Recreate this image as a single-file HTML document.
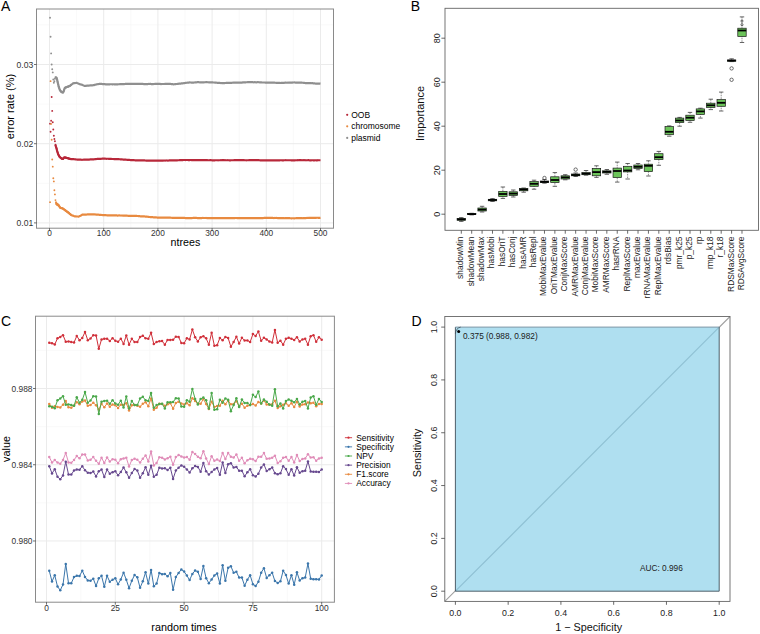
<!DOCTYPE html>
<html><head><meta charset="utf-8"><style>
html,body{margin:0;padding:0;background:#fff;}
body{width:760px;height:634px;overflow:hidden;}
svg{display:block;font-family:"Liberation Sans", sans-serif;}
</style></head><body>
<svg width="760" height="634" viewBox="0 0 760 634" font-family='"Liberation Sans", sans-serif'>
<rect width="760" height="634" fill="#fff"/>
<g id="A">
<line x1="76.6" y1="9.0" x2="76.6" y2="228.2" stroke="#f5f5f5" stroke-width="0.6"/>
<line x1="130.8" y1="9.0" x2="130.8" y2="228.2" stroke="#f5f5f5" stroke-width="0.6"/>
<line x1="185" y1="9.0" x2="185" y2="228.2" stroke="#f5f5f5" stroke-width="0.6"/>
<line x1="239.2" y1="9.0" x2="239.2" y2="228.2" stroke="#f5f5f5" stroke-width="0.6"/>
<line x1="293.4" y1="9.0" x2="293.4" y2="228.2" stroke="#f5f5f5" stroke-width="0.6"/>
<line x1="36.5" y1="183.3" x2="333.5" y2="183.3" stroke="#f5f5f5" stroke-width="0.6"/>
<line x1="36.5" y1="104.1" x2="333.5" y2="104.1" stroke="#f5f5f5" stroke-width="0.6"/>
<line x1="36.5" y1="24.9" x2="333.5" y2="24.9" stroke="#f5f5f5" stroke-width="0.6"/>
<line x1="49.5" y1="9.0" x2="49.5" y2="228.2" stroke="#ebebeb" stroke-width="1"/>
<line x1="103.7" y1="9.0" x2="103.7" y2="228.2" stroke="#ebebeb" stroke-width="1"/>
<line x1="157.9" y1="9.0" x2="157.9" y2="228.2" stroke="#ebebeb" stroke-width="1"/>
<line x1="212.1" y1="9.0" x2="212.1" y2="228.2" stroke="#ebebeb" stroke-width="1"/>
<line x1="266.3" y1="9.0" x2="266.3" y2="228.2" stroke="#ebebeb" stroke-width="1"/>
<line x1="320.5" y1="9.0" x2="320.5" y2="228.2" stroke="#ebebeb" stroke-width="1"/>
<line x1="36.5" y1="222.9" x2="333.5" y2="222.9" stroke="#ebebeb" stroke-width="1"/>
<line x1="36.5" y1="143.7" x2="333.5" y2="143.7" stroke="#ebebeb" stroke-width="1"/>
<line x1="36.5" y1="64.5" x2="333.5" y2="64.5" stroke="#ebebeb" stroke-width="1"/>
<polyline points="56,77.17 56.55,77.96 57.09,79.55 57.63,81.92 58.17,84.3 58.71,86.68 59.26,88.26 59.8,89.84 60.34,90.64 60.88,91.43 61.42,91.82 61.97,92.22 62.51,92.38 63.05,92.38 63.59,91.43 64.13,89.84 64.68,88.26 65.22,87.63 65.76,87.43 66.3,87.19 66.84,86.99 67.39,86.8 67.93,86.63 68.47,86.43 69.01,86.16 69.55,85.93 70.1,85.67 70.64,85.25 71.18,84.82 71.72,84.41 72.26,84.08 72.81,83.63 73.35,83.2 73.89,83.08 74.43,83.07 74.97,83.07 75.52,83.01 76.06,82.94 76.6,82.83 77.14,83.07 77.68,83.27 78.23,83.54 78.77,83.76 79.31,83.98 79.85,84.2 80.39,84.32 80.94,84.49 81.48,84.63 82.02,84.86 82.56,85.09 83.1,85.31 83.65,85.51 84.19,85.68 84.73,85.86 85.27,85.83 85.81,85.83 86.36,85.8 86.9,85.68 87.44,85.67 87.98,85.6 88.52,85.53 89.07,85.55 89.61,85.49 90.15,85.37 90.69,85.41 91.23,85.37 91.78,85.32 92.32,85.3 92.86,85.22 93.4,85.12 93.94,85.08 94.49,84.93 95.03,84.79 95.57,84.64 96.11,84.47 96.65,84.34 97.2,84.24 97.74,84.2 98.28,84.06 98.82,83.99 99.36,83.9 99.91,83.86 100.45,83.92 100.99,83.96 101.53,83.92 102.07,84.03 102.62,84.11 103.16,84.12 103.7,84.06 104.24,84.05 104.78,84.15 105.33,84.29 105.87,84.28 106.41,84.33 106.95,84.39 107.49,84.35 108.04,84.31 108.58,84.32 109.12,84.32 109.66,84.31 110.2,84.25 110.75,84.24 111.29,84.23 111.83,84.23 112.37,84.32 112.91,84.28 113.46,84.25 114,84.25 114.54,84.36 115.08,84.38 115.62,84.32 116.17,84.39 116.71,84.38 117.25,84.32 117.79,84.36 118.33,84.27 118.88,84.23 119.42,84.22 119.96,84.19 120.5,84.15 121.04,84.13 121.59,84.06 122.13,84.08 122.67,84.09 123.21,84.03 123.75,84.01 124.3,84.04 124.84,83.99 125.38,83.91 125.92,83.92 126.46,83.97 127.01,83.97 127.55,83.96 128.09,83.96 128.63,83.88 129.17,83.92 129.72,83.85 130.26,83.9 130.8,83.92 131.34,83.91 131.88,83.87 132.43,83.84 132.97,83.84 133.51,83.85 134.05,83.86 134.59,83.85 135.14,83.88 135.68,83.88 136.22,83.87 136.76,83.89 137.3,83.87 137.85,83.86 138.39,83.79 138.93,83.79 139.47,83.84 140.01,83.87 140.56,83.9 141.1,83.87 141.64,83.91 142.18,83.91 142.72,83.85 143.27,83.99 143.81,84.07 144.35,84.07 144.89,84.07 145.43,84.08 145.98,84.12 146.52,84.1 147.06,84.11 147.6,84.12 148.14,83.99 148.69,83.96 149.23,83.98 149.77,83.97 150.31,83.97 150.85,83.96 151.4,84.07 151.94,84.08 152.48,84.01 153.02,84.05 153.56,84.03 154.11,83.97 154.65,83.91 155.19,83.82 155.73,83.89 156.27,83.89 156.82,83.89 157.36,83.84 157.9,83.77 158.44,83.92 158.98,83.88 159.53,83.96 160.07,83.94 160.61,84.03 161.15,84.03 161.69,83.98 162.24,84 162.78,84.01 163.32,83.98 163.86,83.99 164.4,84.01 164.95,83.95 165.49,83.92 166.03,83.95 166.57,83.84 167.11,83.92 167.66,83.89 168.2,83.93 168.74,83.94 169.28,83.93 169.82,83.94 170.37,83.93 170.91,84.02 171.45,84.11 171.99,84.1 172.53,84.16 173.08,84.23 173.62,84.31 174.16,84.26 174.7,84.18 175.24,84.06 175.79,84.05 176.33,84 176.87,84.01 177.41,83.92 177.95,83.79 178.5,83.79 179.04,83.66 179.58,83.57 180.12,83.53 180.66,83.57 181.21,83.46 181.75,83.41 182.29,83.39 182.83,83.33 183.37,83.26 183.92,83.14 184.46,83.14 185,83.04 185.54,82.92 186.08,82.81 186.63,82.77 187.17,82.76 187.71,82.67 188.25,82.62 188.79,82.57 189.34,82.46 189.88,82.43 190.42,82.5 190.96,82.51 191.5,82.59 192.05,82.54 192.59,82.52 193.13,82.54 193.67,82.53 194.21,82.48 194.76,82.47 195.3,82.39 195.84,82.39 196.38,82.33 196.92,82.26 197.47,82.18 198.01,82.21 198.55,82.16 199.09,82.25 199.63,82.29 200.18,82.38 200.72,82.32 201.26,82.37 201.8,82.36 202.34,82.36 202.89,82.35 203.43,82.36 203.97,82.34 204.51,82.24 205.05,82.23 205.6,82.2 206.14,82.14 206.68,82.14 207.22,82.22 207.76,82.26 208.31,82.23 208.85,82.32 209.39,82.37 209.93,82.33 210.47,82.31 211.02,82.33 211.56,82.3 212.1,82.31 212.64,82.39 213.18,82.48 213.73,82.52 214.27,82.49 214.81,82.53 215.35,82.59 215.89,82.63 216.44,82.72 216.98,82.73 217.52,82.8 218.06,82.78 218.6,82.9 219.15,82.89 219.69,82.93 220.23,83.03 220.77,82.99 221.31,83.01 221.86,83.12 222.4,83.16 222.94,83.15 223.48,83.16 224.02,83.1 224.57,83.06 225.11,83.02 225.65,82.99 226.19,82.92 226.73,82.88 227.28,82.86 227.82,82.95 228.36,82.9 228.9,82.83 229.44,82.84 229.99,82.86 230.53,82.77 231.07,82.85 231.61,82.82 232.15,82.7 232.7,82.75 233.24,82.71 233.78,82.62 234.32,82.63 234.86,82.61 235.41,82.57 235.95,82.62 236.49,82.62 237.03,82.61 237.57,82.58 238.12,82.58 238.66,82.6 239.2,82.65 239.74,82.65 240.28,82.59 240.83,82.56 241.37,82.59 241.91,82.61 242.45,82.46 242.99,82.39 243.54,82.35 244.08,82.46 244.62,82.41 245.16,82.37 245.7,82.28 246.25,82.24 246.79,82.23 247.33,82.19 247.87,82.27 248.41,82.21 248.96,82.18 249.5,82.2 250.04,82.12 250.58,82.05 251.12,82.14 251.67,82.19 252.21,82.2 252.75,82.2 253.29,82.24 253.83,82.31 254.38,82.22 254.92,82.19 255.46,82.27 256,82.35 256.54,82.29 257.09,82.26 257.63,82.19 258.17,82.18 258.71,82.24 259.25,82.25 259.8,82.38 260.34,82.43 260.88,82.45 261.42,82.44 261.96,82.5 262.51,82.52 263.05,82.51 263.59,82.51 264.13,82.5 264.67,82.51 265.22,82.54 265.76,82.52 266.3,82.54 266.84,82.58 267.38,82.62 267.93,82.62 268.47,82.63 269.01,82.62 269.55,82.62 270.09,82.62 270.64,82.63 271.18,82.69 271.72,82.67 272.26,82.62 272.8,82.6 273.35,82.62 273.89,82.6 274.43,82.65 274.97,82.74 275.51,82.74 276.06,82.78 276.6,82.74 277.14,82.79 277.68,82.92 278.22,82.96 278.77,82.88 279.31,82.89 279.85,82.95 280.39,82.98 280.93,82.95 281.48,82.92 282.02,82.9 282.56,82.83 283.1,82.8 283.64,82.81 284.19,82.79 284.73,82.72 285.27,82.68 285.81,82.65 286.35,82.71 286.9,82.73 287.44,82.71 287.98,82.73 288.52,82.7 289.06,82.68 289.61,82.65 290.15,82.68 290.69,82.57 291.23,82.53 291.77,82.56 292.32,82.58 292.86,82.47 293.4,82.51 293.94,82.49 294.48,82.47 295.03,82.49 295.57,82.57 296.11,82.58 296.65,82.59 297.19,82.56 297.74,82.54 298.28,82.56 298.82,82.55 299.36,82.55 299.9,82.56 300.45,82.58 300.99,82.62 301.53,82.61 302.07,82.68 302.61,82.73 303.16,82.75 303.7,82.84 304.24,82.88 304.78,83 305.32,83.05 305.87,83.03 306.41,83.02 306.95,83.04 307.49,83.07 308.03,83.16 308.58,83.08 309.12,83.08 309.66,83.04 310.2,83.1 310.74,83.13 311.29,83.23 311.83,83.21 312.37,83.18 312.91,83.29 313.45,83.31 314,83.29 314.54,83.39 315.08,83.49 315.62,83.55 316.16,83.59 316.71,83.66 317.25,83.67 317.79,83.66 318.33,83.64 318.87,83.61 319.42,83.55 319.96,83.5 320.5,83.58" fill="none" stroke="#8f8f8f" stroke-width="2.2" stroke-linejoin="round"/>
<circle cx="50.04" cy="17.77" r="0.95" fill="#8f8f8f"/>
<circle cx="50.58" cy="36.78" r="0.95" fill="#8f8f8f"/>
<circle cx="51.13" cy="53.41" r="0.95" fill="#8f8f8f"/>
<circle cx="51.67" cy="64.5" r="0.95" fill="#8f8f8f"/>
<circle cx="52.21" cy="69.25" r="0.95" fill="#8f8f8f"/>
<circle cx="52.75" cy="72.42" r="0.95" fill="#8f8f8f"/>
<circle cx="53.29" cy="79.55" r="0.95" fill="#8f8f8f"/>
<circle cx="53.84" cy="82.72" r="0.95" fill="#8f8f8f"/>
<circle cx="54.38" cy="81.13" r="0.95" fill="#8f8f8f"/>
<circle cx="54.92" cy="78.76" r="0.95" fill="#8f8f8f"/>
<circle cx="55.46" cy="77.17" r="0.95" fill="#8f8f8f"/>
<circle cx="56" cy="77.17" r="0.95" fill="#8f8f8f"/>
<circle cx="56.55" cy="77.96" r="0.95" fill="#8f8f8f"/>
<circle cx="57.09" cy="79.55" r="0.95" fill="#8f8f8f"/>
<circle cx="57.63" cy="81.92" r="0.95" fill="#8f8f8f"/>
<circle cx="58.17" cy="84.3" r="0.95" fill="#8f8f8f"/>
<circle cx="58.71" cy="86.68" r="0.95" fill="#8f8f8f"/>
<circle cx="59.26" cy="88.26" r="0.95" fill="#8f8f8f"/>
<circle cx="59.8" cy="89.84" r="0.95" fill="#8f8f8f"/>
<circle cx="60.34" cy="90.64" r="0.95" fill="#8f8f8f"/>
<circle cx="60.88" cy="91.43" r="0.95" fill="#8f8f8f"/>
<circle cx="61.42" cy="91.82" r="0.95" fill="#8f8f8f"/>
<circle cx="61.97" cy="92.22" r="0.95" fill="#8f8f8f"/>
<circle cx="62.51" cy="92.38" r="0.95" fill="#8f8f8f"/>
<circle cx="63.05" cy="92.38" r="0.95" fill="#8f8f8f"/>
<circle cx="63.59" cy="91.43" r="0.95" fill="#8f8f8f"/>
<circle cx="64.13" cy="89.84" r="0.95" fill="#8f8f8f"/>
<circle cx="64.68" cy="88.26" r="0.95" fill="#8f8f8f"/>
<circle cx="65.22" cy="87.63" r="0.95" fill="#8f8f8f"/>
<circle cx="65.76" cy="87.43" r="0.95" fill="#8f8f8f"/>
<circle cx="66.3" cy="87.19" r="0.95" fill="#8f8f8f"/>
<circle cx="66.84" cy="86.99" r="0.95" fill="#8f8f8f"/>
<circle cx="67.39" cy="86.8" r="0.95" fill="#8f8f8f"/>
<circle cx="67.93" cy="86.63" r="0.95" fill="#8f8f8f"/>
<circle cx="68.47" cy="86.43" r="0.95" fill="#8f8f8f"/>
<circle cx="69.01" cy="86.16" r="0.95" fill="#8f8f8f"/>
<circle cx="69.55" cy="85.93" r="0.95" fill="#8f8f8f"/>
<circle cx="70.1" cy="85.67" r="0.95" fill="#8f8f8f"/>
<circle cx="70.64" cy="85.25" r="0.95" fill="#8f8f8f"/>
<circle cx="71.18" cy="84.82" r="0.95" fill="#8f8f8f"/>
<polyline points="55.46,144.73 56,146.87 56.55,148.45 57.09,150.83 57.63,152.41 58.17,154.23 58.71,155.18 59.26,156.37 59.8,157.16 60.34,157.48 60.88,157.96 61.42,158.35 61.97,158.75 62.51,158.91 63.05,158.91 63.59,157.96 64.13,157.56 64.68,157.48 65.22,157.48 65.76,157.64 66.3,157.82 66.84,157.99 67.39,158.13 67.93,158.27 68.47,158.4 69.01,158.59 69.55,158.77 70.1,158.91 70.64,159.05 71.18,159.09 71.72,159.11 72.26,159.16 72.81,159.17 73.35,159.18 73.89,159.21 74.43,159.26 74.97,159.29 75.52,159.4 76.06,159.46 76.6,159.48 77.14,159.55 77.68,159.56 78.23,159.58 78.77,159.65 79.31,159.68 79.85,159.71 80.39,159.72 80.94,159.72 81.48,159.74 82.02,159.79 82.56,159.77 83.1,159.74 83.65,159.69 84.19,159.66 84.73,159.66 85.27,159.67 85.81,159.66 86.36,159.65 86.9,159.66 87.44,159.64 87.98,159.62 88.52,159.59 89.07,159.55 89.61,159.53 90.15,159.43 90.69,159.41 91.23,159.35 91.78,159.33 92.32,159.27 92.86,159.32 93.4,159.32 93.94,159.28 94.49,159.24 95.03,159.14 95.57,159.11 96.11,159.05 96.65,159 97.2,158.95 97.74,158.92 98.28,158.9 98.82,158.87 99.36,158.89 99.91,158.83 100.45,158.84 100.99,158.82 101.53,158.73 102.07,158.72 102.62,158.7 103.16,158.65 103.7,158.63 104.24,158.69 104.78,158.71 105.33,158.72 105.87,158.73 106.41,158.78 106.95,158.75 107.49,158.73 108.04,158.76 108.58,158.79 109.12,158.83 109.66,158.82 110.2,158.88 110.75,158.89 111.29,158.93 111.83,158.99 112.37,159 112.91,158.99 113.46,159.02 114,159.07 114.54,159.08 115.08,159.11 115.62,159.13 116.17,159.12 116.71,159.12 117.25,159.17 117.79,159.13 118.33,159.16 118.88,159.17 119.42,159.23 119.96,159.27 120.5,159.36 121.04,159.33 121.59,159.32 122.13,159.4 122.67,159.48 123.21,159.56 123.75,159.56 124.3,159.6 124.84,159.63 125.38,159.68 125.92,159.71 126.46,159.77 127.01,159.8 127.55,159.88 128.09,159.91 128.63,159.92 129.17,159.94 129.72,159.97 130.26,160.03 130.8,160.05 131.34,160.09 131.88,160.07 132.43,160.07 132.97,160.1 133.51,160.15 134.05,160.2 134.59,160.26 135.14,160.29 135.68,160.31 136.22,160.32 136.76,160.31 137.3,160.26 137.85,160.29 138.39,160.3 138.93,160.23 139.47,160.3 140.01,160.33 140.56,160.34 141.1,160.34 141.64,160.34 142.18,160.36 142.72,160.36 143.27,160.37 143.81,160.36 144.35,160.44 144.89,160.47 145.43,160.48 145.98,160.53 146.52,160.57 147.06,160.56 147.6,160.59 148.14,160.58 148.69,160.56 149.23,160.56 149.77,160.56 150.31,160.57 150.85,160.63 151.4,160.64 151.94,160.63 152.48,160.66 153.02,160.67 153.56,160.65 154.11,160.69 154.65,160.68 155.19,160.63 155.73,160.66 156.27,160.67 156.82,160.68 157.36,160.64 157.9,160.65 158.44,160.61 158.98,160.62 159.53,160.61 160.07,160.6 160.61,160.64 161.15,160.58 161.69,160.54 162.24,160.59 162.78,160.55 163.32,160.55 163.86,160.52 164.4,160.5 164.95,160.53 165.49,160.53 166.03,160.47 166.57,160.48 167.11,160.5 167.66,160.53 168.2,160.55 168.74,160.52 169.28,160.46 169.82,160.43 170.37,160.41 170.91,160.32 171.45,160.33 171.99,160.34 172.53,160.31 173.08,160.28 173.62,160.3 174.16,160.33 174.7,160.31 175.24,160.29 175.79,160.32 176.33,160.31 176.87,160.31 177.41,160.28 177.95,160.27 178.5,160.26 179.04,160.26 179.58,160.21 180.12,160.15 180.66,160.15 181.21,160.11 181.75,160.12 182.29,160.11 182.83,160.07 183.37,160.01 183.92,160.01 184.46,160.01 185,159.99 185.54,160.03 186.08,160.01 186.63,160.02 187.17,160 187.71,160.02 188.25,160.07 188.79,160.05 189.34,160.03 189.88,160.03 190.42,159.99 190.96,160 191.5,160.03 192.05,160.02 192.59,160.08 193.13,160.11 193.67,160.12 194.21,160.1 194.76,160.11 195.3,160.11 195.84,160.13 196.38,160.13 196.92,160.09 197.47,160.12 198.01,160.05 198.55,160.08 199.09,160.09 199.63,160.1 200.18,160.07 200.72,160.12 201.26,160.2 201.8,160.19 202.34,160.17 202.89,160.16 203.43,160.09 203.97,160.09 204.51,160.1 205.05,160.08 205.6,160.08 206.14,160.04 206.68,160.1 207.22,160.13 207.76,160.25 208.31,160.23 208.85,160.25 209.39,160.24 209.93,160.18 210.47,160.19 211.02,160.21 211.56,160.24 212.1,160.28 212.64,160.3 213.18,160.28 213.73,160.28 214.27,160.28 214.81,160.29 215.35,160.26 215.89,160.25 216.44,160.26 216.98,160.24 217.52,160.24 218.06,160.28 218.6,160.24 219.15,160.23 219.69,160.26 220.23,160.23 220.77,160.22 221.31,160.27 221.86,160.22 222.4,160.22 222.94,160.19 223.48,160.19 224.02,160.2 224.57,160.25 225.11,160.22 225.65,160.23 226.19,160.24 226.73,160.23 227.28,160.23 227.82,160.21 228.36,160.23 228.9,160.23 229.44,160.3 229.99,160.32 230.53,160.3 231.07,160.25 231.61,160.27 232.15,160.27 232.7,160.23 233.24,160.24 233.78,160.22 234.32,160.17 234.86,160.17 235.41,160.14 235.95,160.17 236.49,160.17 237.03,160.17 237.57,160.17 238.12,160.14 238.66,160.07 239.2,160.1 239.74,160.13 240.28,160.12 240.83,160.16 241.37,160.15 241.91,160.13 242.45,160.15 242.99,160.14 243.54,160.19 244.08,160.17 244.62,160.23 245.16,160.25 245.7,160.27 246.25,160.29 246.79,160.26 247.33,160.26 247.87,160.27 248.41,160.26 248.96,160.21 249.5,160.21 250.04,160.21 250.58,160.17 251.12,160.17 251.67,160.21 252.21,160.14 252.75,160.07 253.29,160.14 253.83,160.15 254.38,160.14 254.92,160.12 255.46,160.1 256,160.12 256.54,160.16 257.09,160.16 257.63,160.13 258.17,160.17 258.71,160.21 259.25,160.22 259.8,160.28 260.34,160.29 260.88,160.31 261.42,160.29 261.96,160.32 262.51,160.34 263.05,160.36 263.59,160.36 264.13,160.38 264.67,160.38 265.22,160.35 265.76,160.31 266.3,160.26 266.84,160.29 267.38,160.3 267.93,160.38 268.47,160.32 269.01,160.34 269.55,160.34 270.09,160.33 270.64,160.37 271.18,160.35 271.72,160.35 272.26,160.41 272.8,160.4 273.35,160.36 273.89,160.42 274.43,160.39 274.97,160.38 275.51,160.36 276.06,160.35 276.6,160.31 277.14,160.32 277.68,160.29 278.22,160.3 278.77,160.28 279.31,160.31 279.85,160.31 280.39,160.26 280.93,160.25 281.48,160.25 282.02,160.29 282.56,160.32 283.1,160.31 283.64,160.28 284.19,160.27 284.73,160.26 285.27,160.26 285.81,160.22 286.35,160.24 286.9,160.26 287.44,160.23 287.98,160.23 288.52,160.24 289.06,160.26 289.61,160.27 290.15,160.26 290.69,160.25 291.23,160.29 291.77,160.28 292.32,160.27 292.86,160.3 293.4,160.28 293.94,160.29 294.48,160.3 295.03,160.28 295.57,160.24 296.11,160.26 296.65,160.25 297.19,160.28 297.74,160.21 298.28,160.23 298.82,160.19 299.36,160.22 299.9,160.2 300.45,160.13 300.99,160.22 301.53,160.23 302.07,160.22 302.61,160.23 303.16,160.25 303.7,160.19 304.24,160.19 304.78,160.24 305.32,160.22 305.87,160.28 306.41,160.24 306.95,160.26 307.49,160.26 308.03,160.22 308.58,160.22 309.12,160.27 309.66,160.33 310.2,160.29 310.74,160.27 311.29,160.29 311.83,160.27 312.37,160.25 312.91,160.24 313.45,160.31 314,160.32 314.54,160.29 315.08,160.27 315.62,160.24 316.16,160.33 316.71,160.32 317.25,160.3 317.79,160.22 318.33,160.26 318.87,160.27 319.42,160.27 319.96,160.25 320.5,160.26" fill="none" stroke="#b8283a" stroke-width="2.2" stroke-linejoin="round"/>
<circle cx="50.04" cy="123.66" r="0.95" fill="#b8283a"/>
<circle cx="50.58" cy="131.82" r="0.95" fill="#b8283a"/>
<circle cx="51.13" cy="120.73" r="0.95" fill="#b8283a"/>
<circle cx="51.67" cy="96.97" r="0.95" fill="#b8283a"/>
<circle cx="52.21" cy="110.91" r="0.95" fill="#b8283a"/>
<circle cx="52.75" cy="122.32" r="0.95" fill="#b8283a"/>
<circle cx="53.29" cy="129.44" r="0.95" fill="#b8283a"/>
<circle cx="53.84" cy="135.78" r="0.95" fill="#b8283a"/>
<circle cx="54.38" cy="138.95" r="0.95" fill="#b8283a"/>
<circle cx="54.92" cy="141.32" r="0.95" fill="#b8283a"/>
<circle cx="55.46" cy="144.73" r="0.95" fill="#b8283a"/>
<circle cx="56" cy="146.87" r="0.95" fill="#b8283a"/>
<circle cx="56.55" cy="148.45" r="0.95" fill="#b8283a"/>
<circle cx="57.09" cy="150.83" r="0.95" fill="#b8283a"/>
<circle cx="57.63" cy="152.41" r="0.95" fill="#b8283a"/>
<circle cx="58.17" cy="154.23" r="0.95" fill="#b8283a"/>
<circle cx="58.71" cy="155.18" r="0.95" fill="#b8283a"/>
<circle cx="59.26" cy="156.37" r="0.95" fill="#b8283a"/>
<circle cx="59.8" cy="157.16" r="0.95" fill="#b8283a"/>
<circle cx="60.34" cy="157.48" r="0.95" fill="#b8283a"/>
<circle cx="60.88" cy="157.96" r="0.95" fill="#b8283a"/>
<circle cx="61.42" cy="158.35" r="0.95" fill="#b8283a"/>
<circle cx="61.97" cy="158.75" r="0.95" fill="#b8283a"/>
<circle cx="62.51" cy="158.91" r="0.95" fill="#b8283a"/>
<circle cx="63.05" cy="158.91" r="0.95" fill="#b8283a"/>
<circle cx="63.59" cy="157.96" r="0.95" fill="#b8283a"/>
<circle cx="64.13" cy="157.56" r="0.95" fill="#b8283a"/>
<circle cx="64.68" cy="157.48" r="0.95" fill="#b8283a"/>
<circle cx="65.22" cy="157.48" r="0.95" fill="#b8283a"/>
<circle cx="65.76" cy="157.64" r="0.95" fill="#b8283a"/>
<circle cx="66.3" cy="157.82" r="0.95" fill="#b8283a"/>
<circle cx="66.84" cy="157.99" r="0.95" fill="#b8283a"/>
<circle cx="67.39" cy="158.13" r="0.95" fill="#b8283a"/>
<circle cx="67.93" cy="158.27" r="0.95" fill="#b8283a"/>
<circle cx="68.47" cy="158.4" r="0.95" fill="#b8283a"/>
<circle cx="69.01" cy="158.59" r="0.95" fill="#b8283a"/>
<circle cx="69.55" cy="158.77" r="0.95" fill="#b8283a"/>
<circle cx="70.1" cy="158.91" r="0.95" fill="#b8283a"/>
<circle cx="70.64" cy="159.05" r="0.95" fill="#b8283a"/>
<circle cx="71.18" cy="159.09" r="0.95" fill="#b8283a"/>
<polyline points="56,202.31 56.55,204.29 57.09,203.89 57.63,205 58.17,204.68 58.71,205.48 59.26,206.27 59.8,207.06 60.34,207.85 60.88,208.01 61.42,208.17 61.97,208.25 62.51,208.33 63.05,208.68 63.59,209.09 64.13,209.48 64.68,209.88 65.22,210.27 65.76,210.68 66.3,211.11 66.84,211.47 67.39,211.85 67.93,212.25 68.47,212.63 69.01,213.08 69.55,213.58 70.1,214.06 70.64,214.52 71.18,214.98 71.72,215.19 72.26,215.46 72.81,215.62 73.35,215.81 73.89,216.02 74.43,216.23 74.97,216.42 75.52,216.44 76.06,216.47 76.6,216.49 77.14,216.51 77.68,216.52 78.23,216.56 78.77,216.53 79.31,216.3 79.85,216 80.39,215.76 80.94,215.47 81.48,215.15 82.02,214.87 82.56,214.62 83.1,214.6 83.65,214.57 84.19,214.61 84.73,214.6 85.27,214.58 85.81,214.57 86.36,214.55 86.9,214.5 87.44,214.46 87.98,214.41 88.52,214.37 89.07,214.36 89.61,214.34 90.15,214.33 90.69,214.33 91.23,214.31 91.78,214.35 92.32,214.34 92.86,214.32 93.4,214.39 93.94,214.42 94.49,214.44 95.03,214.48 95.57,214.45 96.11,214.57 96.65,214.61 97.2,214.71 97.74,214.71 98.28,214.66 98.82,214.77 99.36,214.81 99.91,214.82 100.45,214.87 100.99,214.89 101.53,215 102.07,215 102.62,215.03 103.16,215.06 103.7,215.12 104.24,215.11 104.78,215.14 105.33,215.15 105.87,215.18 106.41,215.27 106.95,215.28 107.49,215.29 108.04,215.28 108.58,215.32 109.12,215.34 109.66,215.33 110.2,215.34 110.75,215.32 111.29,215.27 111.83,215.32 112.37,215.4 112.91,215.38 113.46,215.35 114,215.34 114.54,215.33 115.08,215.37 115.62,215.42 116.17,215.41 116.71,215.45 117.25,215.53 117.79,215.57 118.33,215.5 118.88,215.44 119.42,215.47 119.96,215.51 120.5,215.51 121.04,215.54 121.59,215.51 122.13,215.52 122.67,215.56 123.21,215.53 123.75,215.56 124.3,215.56 124.84,215.57 125.38,215.59 125.92,215.59 126.46,215.62 127.01,215.69 127.55,215.77 128.09,215.81 128.63,215.84 129.17,215.84 129.72,215.84 130.26,215.83 130.8,215.83 131.34,215.86 131.88,215.89 132.43,215.96 132.97,215.96 133.51,215.95 134.05,215.94 134.59,215.94 135.14,215.95 135.68,215.92 136.22,215.93 136.76,215.95 137.3,215.98 137.85,216.02 138.39,216.03 138.93,216.09 139.47,216.15 140.01,216.23 140.56,216.3 141.1,216.3 141.64,216.29 142.18,216.34 142.72,216.37 143.27,216.39 143.81,216.41 144.35,216.43 144.89,216.52 145.43,216.59 145.98,216.63 146.52,216.64 147.06,216.69 147.6,216.77 148.14,216.83 148.69,216.91 149.23,216.99 149.77,216.99 150.31,217.06 150.85,217.12 151.4,217.1 151.94,217.12 152.48,217.17 153.02,217.24 153.56,217.29 154.11,217.29 154.65,217.33 155.19,217.35 155.73,217.4 156.27,217.45 156.82,217.51 157.36,217.56 157.9,217.58 158.44,217.63 158.98,217.64 159.53,217.64 160.07,217.66 160.61,217.67 161.15,217.65 161.69,217.6 162.24,217.58 162.78,217.58 163.32,217.64 163.86,217.58 164.4,217.59 164.95,217.59 165.49,217.64 166.03,217.65 166.57,217.69 167.11,217.69 167.66,217.68 168.2,217.68 168.74,217.68 169.28,217.71 169.82,217.67 170.37,217.69 170.91,217.75 171.45,217.76 171.99,217.79 172.53,217.82 173.08,217.83 173.62,217.82 174.16,217.86 174.7,217.86 175.24,217.82 175.79,217.8 176.33,217.8 176.87,217.8 177.41,217.8 177.95,217.81 178.5,217.78 179.04,217.79 179.58,217.87 180.12,217.87 180.66,217.89 181.21,217.87 181.75,217.89 182.29,217.88 182.83,217.81 183.37,217.85 183.92,217.88 184.46,217.92 185,218 185.54,218.06 186.08,218.05 186.63,218.07 187.17,218.13 187.71,218.17 188.25,218.15 188.79,218.17 189.34,218.18 189.88,218.17 190.42,218.12 190.96,218.06 191.5,218.03 192.05,218.03 192.59,218.02 193.13,217.97 193.67,217.93 194.21,217.95 194.76,217.94 195.3,217.94 195.84,217.94 196.38,217.96 196.92,218.01 197.47,218.03 198.01,218.09 198.55,218.05 199.09,218.04 199.63,218.08 200.18,218.04 200.72,218.02 201.26,218.09 201.8,218.03 202.34,218.01 202.89,217.95 203.43,218 203.97,217.99 204.51,217.99 205.05,217.99 205.6,217.99 206.14,217.97 206.68,218.03 207.22,218.07 207.76,218.12 208.31,218.15 208.85,218.17 209.39,218.16 209.93,218.16 210.47,218.16 211.02,218.19 211.56,218.21 212.1,218.18 212.64,218.16 213.18,218.16 213.73,218.17 214.27,218.12 214.81,218.14 215.35,218.12 215.89,218.08 216.44,218.09 216.98,218.07 217.52,218.1 218.06,218.07 218.6,218.07 219.15,218.12 219.69,218.1 220.23,218.13 220.77,218.09 221.31,218.11 221.86,218.12 222.4,218.11 222.94,218.12 223.48,218.12 224.02,218.13 224.57,218.11 225.11,218.11 225.65,218.11 226.19,218.2 226.73,218.16 227.28,218.16 227.82,218.21 228.36,218.21 228.9,218.19 229.44,218.16 229.99,218.19 230.53,218.14 231.07,218.15 231.61,218.07 232.15,218.08 232.7,218.06 233.24,218.07 233.78,218.11 234.32,218.08 234.86,218.05 235.41,218 235.95,217.98 236.49,218 237.03,218.06 237.57,218.08 238.12,218.11 238.66,218.13 239.2,218.12 239.74,218.11 240.28,218.12 240.83,218.11 241.37,218.12 241.91,218.11 242.45,218.09 242.99,218.06 243.54,218.09 244.08,218.13 244.62,218.09 245.16,218.09 245.7,218.05 246.25,218.11 246.79,218.12 247.33,218.12 247.87,218.17 248.41,218.18 248.96,218.16 249.5,218.12 250.04,218.08 250.58,218.1 251.12,218.15 251.67,218.13 252.21,218.1 252.75,218.1 253.29,218.14 253.83,218.12 254.38,218.09 254.92,218.08 255.46,218.1 256,218.09 256.54,218.06 257.09,218.08 257.63,218.14 258.17,218.13 258.71,218.12 259.25,218.12 259.8,218.09 260.34,218.11 260.88,218.12 261.42,218.13 261.96,218.11 262.51,218.06 263.05,218.07 263.59,218.01 264.13,217.96 264.67,217.94 265.22,217.93 265.76,217.88 266.3,217.9 266.84,217.91 267.38,217.94 267.93,217.93 268.47,217.9 269.01,217.89 269.55,217.88 270.09,217.89 270.64,217.89 271.18,217.94 271.72,217.91 272.26,217.93 272.8,217.97 273.35,218 273.89,218.03 274.43,218 274.97,217.97 275.51,218.01 276.06,217.99 276.6,217.96 277.14,217.98 277.68,218.03 278.22,218.06 278.77,218.08 279.31,218.07 279.85,218.08 280.39,218.14 280.93,218.13 281.48,218.18 282.02,218.14 282.56,218.18 283.1,218.2 283.64,218.22 284.19,218.23 284.73,218.18 285.27,218.15 285.81,218.13 286.35,218.12 286.9,218.16 287.44,218.18 287.98,218.19 288.52,218.22 289.06,218.2 289.61,218.21 290.15,218.23 290.69,218.26 291.23,218.32 291.77,218.29 292.32,218.24 292.86,218.23 293.4,218.25 293.94,218.33 294.48,218.31 295.03,218.27 295.57,218.25 296.11,218.21 296.65,218.16 297.19,218.12 297.74,218.13 298.28,218.09 298.82,218.07 299.36,218.11 299.9,218.12 300.45,218.16 300.99,218.16 301.53,218.14 302.07,218.17 302.61,218.23 303.16,218.18 303.7,218.16 304.24,218.11 304.78,218.15 305.32,218.11 305.87,218.04 306.41,217.97 306.95,217.98 307.49,217.97 308.03,217.98 308.58,217.95 309.12,217.91 309.66,217.91 310.2,217.96 310.74,217.93 311.29,217.95 311.83,217.93 312.37,217.92 312.91,217.87 313.45,217.84 314,217.86 314.54,217.85 315.08,217.8 315.62,217.82 316.16,217.81 316.71,217.77 317.25,217.74 317.79,217.73 318.33,217.78 318.87,217.82 319.42,217.82 319.96,217.81 320.5,217.73" fill="none" stroke="#e88a40" stroke-width="2.2" stroke-linejoin="round"/>
<circle cx="50.04" cy="202.15" r="0.95" fill="#e88a40"/>
<circle cx="50.58" cy="81.13" r="0.95" fill="#e88a40"/>
<circle cx="51.13" cy="123.9" r="0.95" fill="#e88a40"/>
<circle cx="51.67" cy="139.74" r="0.95" fill="#e88a40"/>
<circle cx="52.21" cy="159.54" r="0.95" fill="#e88a40"/>
<circle cx="52.75" cy="166.67" r="0.95" fill="#e88a40"/>
<circle cx="53.29" cy="178.31" r="0.95" fill="#e88a40"/>
<circle cx="53.84" cy="181.4" r="0.95" fill="#e88a40"/>
<circle cx="54.38" cy="190.27" r="0.95" fill="#e88a40"/>
<circle cx="54.92" cy="194.39" r="0.95" fill="#e88a40"/>
<circle cx="55.46" cy="200.09" r="0.95" fill="#e88a40"/>
<circle cx="56" cy="202.31" r="0.95" fill="#e88a40"/>
<circle cx="56.55" cy="204.29" r="0.95" fill="#e88a40"/>
<circle cx="57.09" cy="203.89" r="0.95" fill="#e88a40"/>
<circle cx="57.63" cy="205" r="0.95" fill="#e88a40"/>
<circle cx="58.17" cy="204.68" r="0.95" fill="#e88a40"/>
<circle cx="58.71" cy="205.48" r="0.95" fill="#e88a40"/>
<circle cx="59.26" cy="206.27" r="0.95" fill="#e88a40"/>
<circle cx="59.8" cy="207.06" r="0.95" fill="#e88a40"/>
<circle cx="60.34" cy="207.85" r="0.95" fill="#e88a40"/>
<circle cx="60.88" cy="208.01" r="0.95" fill="#e88a40"/>
<circle cx="61.42" cy="208.17" r="0.95" fill="#e88a40"/>
<circle cx="61.97" cy="208.25" r="0.95" fill="#e88a40"/>
<circle cx="62.51" cy="208.33" r="0.95" fill="#e88a40"/>
<circle cx="63.05" cy="208.68" r="0.95" fill="#e88a40"/>
<circle cx="63.59" cy="209.09" r="0.95" fill="#e88a40"/>
<circle cx="64.13" cy="209.48" r="0.95" fill="#e88a40"/>
<circle cx="64.68" cy="209.88" r="0.95" fill="#e88a40"/>
<circle cx="65.22" cy="210.27" r="0.95" fill="#e88a40"/>
<circle cx="65.76" cy="210.68" r="0.95" fill="#e88a40"/>
<circle cx="66.3" cy="211.11" r="0.95" fill="#e88a40"/>
<circle cx="66.84" cy="211.47" r="0.95" fill="#e88a40"/>
<circle cx="67.39" cy="211.85" r="0.95" fill="#e88a40"/>
<circle cx="67.93" cy="212.25" r="0.95" fill="#e88a40"/>
<circle cx="68.47" cy="212.63" r="0.95" fill="#e88a40"/>
<circle cx="69.01" cy="213.08" r="0.95" fill="#e88a40"/>
<circle cx="69.55" cy="213.58" r="0.95" fill="#e88a40"/>
<circle cx="70.1" cy="214.06" r="0.95" fill="#e88a40"/>
<circle cx="70.64" cy="214.52" r="0.95" fill="#e88a40"/>
<circle cx="71.18" cy="214.98" r="0.95" fill="#e88a40"/>
<rect x="36.5" y="9.0" width="297" height="219.2" fill="none" stroke="#8a8a8a" stroke-width="1"/>
<line x1="34.0" y1="222.9" x2="36.5" y2="222.9" stroke="#333" stroke-width="0.7"/>
<text x="33.3" y="226" text-anchor="end" font-size="8.6" fill="#333">0.01</text>
<line x1="34.0" y1="143.7" x2="36.5" y2="143.7" stroke="#333" stroke-width="0.7"/>
<text x="33.3" y="146.8" text-anchor="end" font-size="8.6" fill="#333">0.02</text>
<line x1="34.0" y1="64.5" x2="36.5" y2="64.5" stroke="#333" stroke-width="0.7"/>
<text x="33.3" y="67.6" text-anchor="end" font-size="8.6" fill="#333">0.03</text>
<line x1="49.5" y1="228.2" x2="49.5" y2="230.7" stroke="#333" stroke-width="0.7"/>
<text x="49.5" y="236.39999999999998" text-anchor="middle" font-size="8.3" fill="#333">0</text>
<line x1="103.7" y1="228.2" x2="103.7" y2="230.7" stroke="#333" stroke-width="0.7"/>
<text x="103.7" y="236.39999999999998" text-anchor="middle" font-size="8.3" fill="#333">100</text>
<line x1="157.9" y1="228.2" x2="157.9" y2="230.7" stroke="#333" stroke-width="0.7"/>
<text x="157.9" y="236.39999999999998" text-anchor="middle" font-size="8.3" fill="#333">200</text>
<line x1="212.1" y1="228.2" x2="212.1" y2="230.7" stroke="#333" stroke-width="0.7"/>
<text x="212.1" y="236.39999999999998" text-anchor="middle" font-size="8.3" fill="#333">300</text>
<line x1="266.3" y1="228.2" x2="266.3" y2="230.7" stroke="#333" stroke-width="0.7"/>
<text x="266.3" y="236.39999999999998" text-anchor="middle" font-size="8.3" fill="#333">400</text>
<line x1="320.5" y1="228.2" x2="320.5" y2="230.7" stroke="#333" stroke-width="0.7"/>
<text x="320.5" y="236.39999999999998" text-anchor="middle" font-size="8.3" fill="#333">500</text>
<text x="185.4" y="246.4" text-anchor="middle" font-size="10.7" fill="#000">ntrees</text>
<text transform="translate(13.8,106.5) rotate(-90)" text-anchor="middle" font-size="11" fill="#000">error rate (%)</text>
<circle cx="347.2" cy="114.8" r="1.1" fill="#b8283a"/>
<text x="351.2" y="117.9" font-size="8.5" fill="#000">OOB</text>
<circle cx="347.2" cy="126.35" r="1.1" fill="#e88a40"/>
<text x="351.2" y="129.45" font-size="8.5" fill="#000">chromosome</text>
<circle cx="347.2" cy="137.9" r="1.1" fill="#8f8f8f"/>
<text x="351.2" y="141" font-size="8.5" fill="#000">plasmid</text>
</g>
<g id="B">
<rect x="445.0" y="8.3" width="313.5" height="222" fill="none" stroke="#666" stroke-width="0.9"/>
<line x1="441.4" y1="214.2" x2="445.0" y2="214.2" stroke="#444" stroke-width="0.8"/>
<text transform="translate(440.2,214.2) rotate(-90)" text-anchor="middle" font-size="9" fill="#222">0</text>
<line x1="441.4" y1="170.2" x2="445.0" y2="170.2" stroke="#444" stroke-width="0.8"/>
<text transform="translate(440.2,170.2) rotate(-90)" text-anchor="middle" font-size="9" fill="#222">20</text>
<line x1="441.4" y1="126.2" x2="445.0" y2="126.2" stroke="#444" stroke-width="0.8"/>
<text transform="translate(440.2,126.2) rotate(-90)" text-anchor="middle" font-size="9" fill="#222">40</text>
<line x1="441.4" y1="82.2" x2="445.0" y2="82.2" stroke="#444" stroke-width="0.8"/>
<text transform="translate(440.2,82.2) rotate(-90)" text-anchor="middle" font-size="9" fill="#222">60</text>
<line x1="441.4" y1="38.2" x2="445.0" y2="38.2" stroke="#444" stroke-width="0.8"/>
<text transform="translate(440.2,38.2) rotate(-90)" text-anchor="middle" font-size="9" fill="#222">80</text>
<text transform="translate(423.8,113.5) rotate(-90)" text-anchor="middle" font-size="11" fill="#111">Importance</text>
<line x1="461.3" y1="230.3" x2="461.3" y2="233.70000000000002" stroke="#444" stroke-width="0.8"/>
<text transform="translate(463.2,236.5) rotate(-90)" text-anchor="end" font-size="8.4" fill="#222">shadowMin</text>
<line x1="461.3" y1="217.6" x2="461.3" y2="221.4" stroke="#444" stroke-width="0.6" stroke-dasharray="1.6,1"/>
<line x1="459.1" y1="217.6" x2="463.5" y2="217.6" stroke="#222" stroke-width="0.7"/>
<line x1="459.1" y1="221.4" x2="463.5" y2="221.4" stroke="#222" stroke-width="0.7"/>
<rect x="457.1" y="218.5" width="8.4" height="1.8" fill="#6cc45a" stroke="#1a1a1a" stroke-width="0.7"/>
<line x1="457.1" y1="219.3" x2="465.5" y2="219.3" stroke="#000" stroke-width="1.8"/>
<line x1="471.7" y1="230.3" x2="471.7" y2="233.70000000000002" stroke="#444" stroke-width="0.8"/>
<text transform="translate(473.6,236.5) rotate(-90)" text-anchor="end" font-size="8.4" fill="#222">shadowMean</text>
<line x1="471.7" y1="213.3" x2="471.7" y2="214.9" stroke="#444" stroke-width="0.6" stroke-dasharray="1.6,1"/>
<line x1="469.5" y1="213.3" x2="473.9" y2="213.3" stroke="#222" stroke-width="0.7"/>
<line x1="469.5" y1="214.9" x2="473.9" y2="214.9" stroke="#222" stroke-width="0.7"/>
<rect x="467.5" y="213.6" width="8.4" height="1" fill="#6cc45a" stroke="#1a1a1a" stroke-width="0.7"/>
<line x1="467.5" y1="214.1" x2="475.9" y2="214.1" stroke="#000" stroke-width="1.8"/>
<line x1="482.09" y1="230.3" x2="482.09" y2="233.70000000000002" stroke="#444" stroke-width="0.8"/>
<text transform="translate(483.99,236.5) rotate(-90)" text-anchor="end" font-size="8.4" fill="#222">shadowMax</text>
<line x1="482.09" y1="206.3" x2="482.09" y2="212" stroke="#444" stroke-width="0.6" stroke-dasharray="1.6,1"/>
<line x1="479.89" y1="206.3" x2="484.29" y2="206.3" stroke="#222" stroke-width="0.7"/>
<line x1="479.89" y1="212" x2="484.29" y2="212" stroke="#222" stroke-width="0.7"/>
<rect x="477.89" y="208" width="8.4" height="3" fill="#6cc45a" stroke="#1a1a1a" stroke-width="0.7"/>
<line x1="477.89" y1="209.6" x2="486.29" y2="209.6" stroke="#000" stroke-width="1.8"/>
<line x1="492.49" y1="230.3" x2="492.49" y2="233.70000000000002" stroke="#444" stroke-width="0.8"/>
<text transform="translate(494.39,236.5) rotate(-90)" text-anchor="end" font-size="8.4" fill="#222">hasMobi</text>
<line x1="492.49" y1="198.6" x2="492.49" y2="201.5" stroke="#444" stroke-width="0.6" stroke-dasharray="1.6,1"/>
<line x1="490.29" y1="198.6" x2="494.69" y2="198.6" stroke="#222" stroke-width="0.7"/>
<line x1="490.29" y1="201.5" x2="494.69" y2="201.5" stroke="#222" stroke-width="0.7"/>
<rect x="488.29" y="199.3" width="8.4" height="1.5" fill="#6cc45a" stroke="#1a1a1a" stroke-width="0.7"/>
<line x1="488.29" y1="200" x2="496.69" y2="200" stroke="#000" stroke-width="1.8"/>
<line x1="502.88" y1="230.3" x2="502.88" y2="233.70000000000002" stroke="#444" stroke-width="0.8"/>
<text transform="translate(504.78,236.5) rotate(-90)" text-anchor="end" font-size="8.4" fill="#222">hasOriT</text>
<line x1="502.88" y1="187" x2="502.88" y2="198.4" stroke="#444" stroke-width="0.6" stroke-dasharray="1.6,1"/>
<line x1="500.68" y1="187" x2="505.08" y2="187" stroke="#222" stroke-width="0.7"/>
<line x1="500.68" y1="198.4" x2="505.08" y2="198.4" stroke="#222" stroke-width="0.7"/>
<rect x="498.68" y="191.4" width="8.4" height="5.1" fill="#6cc45a" stroke="#1a1a1a" stroke-width="0.7"/>
<line x1="498.68" y1="194" x2="507.08" y2="194" stroke="#000" stroke-width="1.8"/>
<line x1="513.28" y1="230.3" x2="513.28" y2="233.70000000000002" stroke="#444" stroke-width="0.8"/>
<text transform="translate(515.18,236.5) rotate(-90)" text-anchor="end" font-size="8.4" fill="#222">hasConj</text>
<line x1="513.28" y1="190" x2="513.28" y2="197" stroke="#444" stroke-width="0.6" stroke-dasharray="1.6,1"/>
<line x1="511.08" y1="190" x2="515.48" y2="190" stroke="#222" stroke-width="0.7"/>
<line x1="511.08" y1="197" x2="515.48" y2="197" stroke="#222" stroke-width="0.7"/>
<rect x="509.08" y="191.8" width="8.4" height="3.6" fill="#6cc45a" stroke="#1a1a1a" stroke-width="0.7"/>
<line x1="509.08" y1="193.6" x2="517.48" y2="193.6" stroke="#000" stroke-width="1.8"/>
<line x1="523.68" y1="230.3" x2="523.68" y2="233.70000000000002" stroke="#444" stroke-width="0.8"/>
<text transform="translate(525.58,236.5) rotate(-90)" text-anchor="end" font-size="8.4" fill="#222">hasAMR</text>
<line x1="523.68" y1="188" x2="523.68" y2="192.2" stroke="#444" stroke-width="0.6" stroke-dasharray="1.6,1"/>
<line x1="521.48" y1="188" x2="525.88" y2="188" stroke="#222" stroke-width="0.7"/>
<line x1="521.48" y1="192.2" x2="525.88" y2="192.2" stroke="#222" stroke-width="0.7"/>
<rect x="519.48" y="188.5" width="8.4" height="2.3" fill="#6cc45a" stroke="#1a1a1a" stroke-width="0.7"/>
<line x1="519.48" y1="189.5" x2="527.88" y2="189.5" stroke="#000" stroke-width="1.8"/>
<line x1="534.07" y1="230.3" x2="534.07" y2="233.70000000000002" stroke="#444" stroke-width="0.8"/>
<text transform="translate(535.97,236.5) rotate(-90)" text-anchor="end" font-size="8.4" fill="#222">hasRepl</text>
<line x1="534.07" y1="180.2" x2="534.07" y2="189.2" stroke="#444" stroke-width="0.6" stroke-dasharray="1.6,1"/>
<line x1="531.87" y1="180.2" x2="536.27" y2="180.2" stroke="#222" stroke-width="0.7"/>
<line x1="531.87" y1="189.2" x2="536.27" y2="189.2" stroke="#222" stroke-width="0.7"/>
<rect x="529.87" y="181.6" width="8.4" height="4.7" fill="#6cc45a" stroke="#1a1a1a" stroke-width="0.7"/>
<line x1="529.87" y1="183.8" x2="538.27" y2="183.8" stroke="#000" stroke-width="1.8"/>
<line x1="544.47" y1="230.3" x2="544.47" y2="233.70000000000002" stroke="#444" stroke-width="0.8"/>
<text transform="translate(546.37,236.5) rotate(-90)" text-anchor="end" font-size="8.4" fill="#222">MobiMaxEvalue</text>
<line x1="544.47" y1="179.5" x2="544.47" y2="183.2" stroke="#444" stroke-width="0.6" stroke-dasharray="1.6,1"/>
<line x1="542.27" y1="179.5" x2="546.67" y2="179.5" stroke="#222" stroke-width="0.7"/>
<line x1="542.27" y1="183.2" x2="546.67" y2="183.2" stroke="#222" stroke-width="0.7"/>
<rect x="540.27" y="181" width="8.4" height="1.6" fill="#6cc45a" stroke="#1a1a1a" stroke-width="0.7"/>
<line x1="540.27" y1="181.9" x2="548.67" y2="181.9" stroke="#000" stroke-width="1.8"/>
<circle cx="544.47" cy="178" r="1.7" fill="none" stroke="#333" stroke-width="0.7"/>
<line x1="554.86" y1="230.3" x2="554.86" y2="233.70000000000002" stroke="#444" stroke-width="0.8"/>
<text transform="translate(556.76,236.5) rotate(-90)" text-anchor="end" font-size="8.4" fill="#222">OriTMaxEvalue</text>
<line x1="554.86" y1="172.6" x2="554.86" y2="186.3" stroke="#444" stroke-width="0.6" stroke-dasharray="1.6,1"/>
<line x1="552.66" y1="172.6" x2="557.06" y2="172.6" stroke="#222" stroke-width="0.7"/>
<line x1="552.66" y1="186.3" x2="557.06" y2="186.3" stroke="#222" stroke-width="0.7"/>
<rect x="550.66" y="176.8" width="8.4" height="5.8" fill="#6cc45a" stroke="#1a1a1a" stroke-width="0.7"/>
<line x1="550.66" y1="180" x2="559.06" y2="180" stroke="#000" stroke-width="1.8"/>
<line x1="565.26" y1="230.3" x2="565.26" y2="233.70000000000002" stroke="#444" stroke-width="0.8"/>
<text transform="translate(567.16,236.5) rotate(-90)" text-anchor="end" font-size="8.4" fill="#222">ConjMaxScore</text>
<line x1="565.26" y1="174.7" x2="565.26" y2="179.8" stroke="#444" stroke-width="0.6" stroke-dasharray="1.6,1"/>
<line x1="563.06" y1="174.7" x2="567.46" y2="174.7" stroke="#222" stroke-width="0.7"/>
<line x1="563.06" y1="179.8" x2="567.46" y2="179.8" stroke="#222" stroke-width="0.7"/>
<rect x="561.06" y="175.8" width="8.4" height="3.2" fill="#6cc45a" stroke="#1a1a1a" stroke-width="0.7"/>
<line x1="561.06" y1="177.4" x2="569.46" y2="177.4" stroke="#000" stroke-width="1.8"/>
<line x1="575.66" y1="230.3" x2="575.66" y2="233.70000000000002" stroke="#444" stroke-width="0.8"/>
<text transform="translate(577.56,236.5) rotate(-90)" text-anchor="end" font-size="8.4" fill="#222">AMRMaxEvalue</text>
<line x1="575.66" y1="173" x2="575.66" y2="176.5" stroke="#444" stroke-width="0.6" stroke-dasharray="1.6,1"/>
<line x1="573.46" y1="173" x2="577.86" y2="173" stroke="#222" stroke-width="0.7"/>
<line x1="573.46" y1="176.5" x2="577.86" y2="176.5" stroke="#222" stroke-width="0.7"/>
<rect x="571.46" y="174" width="8.4" height="1.8" fill="#6cc45a" stroke="#1a1a1a" stroke-width="0.7"/>
<line x1="571.46" y1="175" x2="579.86" y2="175" stroke="#000" stroke-width="1.8"/>
<circle cx="575.66" cy="169.6" r="1.7" fill="none" stroke="#333" stroke-width="0.7"/>
<line x1="586.05" y1="230.3" x2="586.05" y2="233.70000000000002" stroke="#444" stroke-width="0.8"/>
<text transform="translate(587.95,236.5) rotate(-90)" text-anchor="end" font-size="8.4" fill="#222">ConjMaxEvalue</text>
<line x1="586.05" y1="170.5" x2="586.05" y2="175.2" stroke="#444" stroke-width="0.6" stroke-dasharray="1.6,1"/>
<line x1="583.85" y1="170.5" x2="588.25" y2="170.5" stroke="#222" stroke-width="0.7"/>
<line x1="583.85" y1="175.2" x2="588.25" y2="175.2" stroke="#222" stroke-width="0.7"/>
<rect x="581.85" y="172.6" width="8.4" height="2.1" fill="#6cc45a" stroke="#1a1a1a" stroke-width="0.7"/>
<line x1="581.85" y1="173.7" x2="590.25" y2="173.7" stroke="#000" stroke-width="1.8"/>
<line x1="596.45" y1="230.3" x2="596.45" y2="233.70000000000002" stroke="#444" stroke-width="0.8"/>
<text transform="translate(598.35,236.5) rotate(-90)" text-anchor="end" font-size="8.4" fill="#222">MobiMaxScore</text>
<line x1="596.45" y1="165.8" x2="596.45" y2="177.4" stroke="#444" stroke-width="0.6" stroke-dasharray="1.6,1"/>
<line x1="594.25" y1="165.8" x2="598.65" y2="165.8" stroke="#222" stroke-width="0.7"/>
<line x1="594.25" y1="177.4" x2="598.65" y2="177.4" stroke="#222" stroke-width="0.7"/>
<rect x="592.25" y="168.4" width="8.4" height="7.4" fill="#6cc45a" stroke="#1a1a1a" stroke-width="0.7"/>
<line x1="592.25" y1="172.1" x2="600.65" y2="172.1" stroke="#000" stroke-width="1.8"/>
<line x1="606.84" y1="230.3" x2="606.84" y2="233.70000000000002" stroke="#444" stroke-width="0.8"/>
<text transform="translate(608.74,236.5) rotate(-90)" text-anchor="end" font-size="8.4" fill="#222">AMRMaxScore</text>
<line x1="606.84" y1="169.5" x2="606.84" y2="174.3" stroke="#444" stroke-width="0.6" stroke-dasharray="1.6,1"/>
<line x1="604.64" y1="169.5" x2="609.04" y2="169.5" stroke="#222" stroke-width="0.7"/>
<line x1="604.64" y1="174.3" x2="609.04" y2="174.3" stroke="#222" stroke-width="0.7"/>
<rect x="602.64" y="170.8" width="8.4" height="2.2" fill="#6cc45a" stroke="#1a1a1a" stroke-width="0.7"/>
<line x1="602.64" y1="171.9" x2="611.04" y2="171.9" stroke="#000" stroke-width="1.8"/>
<line x1="617.24" y1="230.3" x2="617.24" y2="233.70000000000002" stroke="#444" stroke-width="0.8"/>
<text transform="translate(619.14,236.5) rotate(-90)" text-anchor="end" font-size="8.4" fill="#222">hasrRNA</text>
<line x1="617.24" y1="162.1" x2="617.24" y2="182.1" stroke="#444" stroke-width="0.6" stroke-dasharray="1.6,1"/>
<line x1="615.04" y1="162.1" x2="619.44" y2="162.1" stroke="#222" stroke-width="0.7"/>
<line x1="615.04" y1="182.1" x2="619.44" y2="182.1" stroke="#222" stroke-width="0.7"/>
<rect x="613.04" y="168.1" width="8.4" height="9.5" fill="#6cc45a" stroke="#1a1a1a" stroke-width="0.7"/>
<line x1="613.04" y1="171" x2="621.44" y2="171" stroke="#000" stroke-width="1.8"/>
<line x1="627.64" y1="230.3" x2="627.64" y2="233.70000000000002" stroke="#444" stroke-width="0.8"/>
<text transform="translate(629.54,236.5) rotate(-90)" text-anchor="end" font-size="8.4" fill="#222">ReplMaxScore</text>
<line x1="627.64" y1="163.5" x2="627.64" y2="179" stroke="#444" stroke-width="0.6" stroke-dasharray="1.6,1"/>
<line x1="625.44" y1="163.5" x2="629.84" y2="163.5" stroke="#222" stroke-width="0.7"/>
<line x1="625.44" y1="179" x2="629.84" y2="179" stroke="#222" stroke-width="0.7"/>
<rect x="623.44" y="166.3" width="8.4" height="5.6" fill="#6cc45a" stroke="#1a1a1a" stroke-width="0.7"/>
<line x1="623.44" y1="170.5" x2="631.84" y2="170.5" stroke="#000" stroke-width="1.8"/>
<line x1="638.03" y1="230.3" x2="638.03" y2="233.70000000000002" stroke="#444" stroke-width="0.8"/>
<text transform="translate(639.93,236.5) rotate(-90)" text-anchor="end" font-size="8.4" fill="#222">maxEvalue</text>
<line x1="638.03" y1="163.5" x2="638.03" y2="169.8" stroke="#444" stroke-width="0.6" stroke-dasharray="1.6,1"/>
<line x1="635.83" y1="163.5" x2="640.23" y2="163.5" stroke="#222" stroke-width="0.7"/>
<line x1="635.83" y1="169.8" x2="640.23" y2="169.8" stroke="#222" stroke-width="0.7"/>
<rect x="633.83" y="165" width="8.4" height="3.4" fill="#6cc45a" stroke="#1a1a1a" stroke-width="0.7"/>
<line x1="633.83" y1="166.8" x2="642.23" y2="166.8" stroke="#000" stroke-width="1.8"/>
<line x1="648.43" y1="230.3" x2="648.43" y2="233.70000000000002" stroke="#444" stroke-width="0.8"/>
<text transform="translate(650.33,236.5) rotate(-90)" text-anchor="end" font-size="8.4" fill="#222">rRNAMaxEvalue</text>
<line x1="648.43" y1="160.8" x2="648.43" y2="176" stroke="#444" stroke-width="0.6" stroke-dasharray="1.6,1"/>
<line x1="646.23" y1="160.8" x2="650.63" y2="160.8" stroke="#222" stroke-width="0.7"/>
<line x1="646.23" y1="176" x2="650.63" y2="176" stroke="#222" stroke-width="0.7"/>
<rect x="644.23" y="164.2" width="8.4" height="7.4" fill="#6cc45a" stroke="#1a1a1a" stroke-width="0.7"/>
<line x1="644.23" y1="165.8" x2="652.63" y2="165.8" stroke="#000" stroke-width="1.8"/>
<line x1="658.82" y1="230.3" x2="658.82" y2="233.70000000000002" stroke="#444" stroke-width="0.8"/>
<text transform="translate(660.72,236.5) rotate(-90)" text-anchor="end" font-size="8.4" fill="#222">ReplMaxEvalue</text>
<line x1="658.82" y1="151.4" x2="658.82" y2="165.3" stroke="#444" stroke-width="0.6" stroke-dasharray="1.6,1"/>
<line x1="656.62" y1="151.4" x2="661.02" y2="151.4" stroke="#222" stroke-width="0.7"/>
<line x1="656.62" y1="165.3" x2="661.02" y2="165.3" stroke="#222" stroke-width="0.7"/>
<rect x="654.62" y="153.7" width="8.4" height="5.8" fill="#6cc45a" stroke="#1a1a1a" stroke-width="0.7"/>
<line x1="654.62" y1="157.2" x2="663.02" y2="157.2" stroke="#000" stroke-width="1.8"/>
<line x1="669.22" y1="230.3" x2="669.22" y2="233.70000000000002" stroke="#444" stroke-width="0.8"/>
<text transform="translate(671.12,236.5) rotate(-90)" text-anchor="end" font-size="8.4" fill="#222">rdsBias</text>
<line x1="669.22" y1="125.9" x2="669.22" y2="136.2" stroke="#444" stroke-width="0.6" stroke-dasharray="1.6,1"/>
<line x1="667.02" y1="125.9" x2="671.42" y2="125.9" stroke="#222" stroke-width="0.7"/>
<line x1="667.02" y1="136.2" x2="671.42" y2="136.2" stroke="#222" stroke-width="0.7"/>
<rect x="665.02" y="126.6" width="8.4" height="8.1" fill="#6cc45a" stroke="#1a1a1a" stroke-width="0.7"/>
<line x1="665.02" y1="131.8" x2="673.42" y2="131.8" stroke="#000" stroke-width="1.8"/>
<line x1="679.62" y1="230.3" x2="679.62" y2="233.70000000000002" stroke="#444" stroke-width="0.8"/>
<text transform="translate(681.52,236.5) rotate(-90)" text-anchor="end" font-size="8.4" fill="#222">pmr_k25</text>
<line x1="679.62" y1="117.4" x2="679.62" y2="126.2" stroke="#444" stroke-width="0.6" stroke-dasharray="1.6,1"/>
<line x1="677.42" y1="117.4" x2="681.82" y2="117.4" stroke="#222" stroke-width="0.7"/>
<line x1="677.42" y1="126.2" x2="681.82" y2="126.2" stroke="#222" stroke-width="0.7"/>
<rect x="675.42" y="118.1" width="8.4" height="4.5" fill="#6cc45a" stroke="#1a1a1a" stroke-width="0.7"/>
<line x1="675.42" y1="120.5" x2="683.82" y2="120.5" stroke="#000" stroke-width="1.8"/>
<line x1="690.01" y1="230.3" x2="690.01" y2="233.70000000000002" stroke="#444" stroke-width="0.8"/>
<text transform="translate(691.91,236.5) rotate(-90)" text-anchor="end" font-size="8.4" fill="#222">p_k25</text>
<line x1="690.01" y1="112.4" x2="690.01" y2="122.3" stroke="#444" stroke-width="0.6" stroke-dasharray="1.6,1"/>
<line x1="687.81" y1="112.4" x2="692.21" y2="112.4" stroke="#222" stroke-width="0.7"/>
<line x1="687.81" y1="122.3" x2="692.21" y2="122.3" stroke="#222" stroke-width="0.7"/>
<rect x="685.81" y="115.2" width="8.4" height="5.3" fill="#6cc45a" stroke="#1a1a1a" stroke-width="0.7"/>
<line x1="685.81" y1="117.7" x2="694.21" y2="117.7" stroke="#000" stroke-width="1.8"/>
<line x1="700.41" y1="230.3" x2="700.41" y2="233.70000000000002" stroke="#444" stroke-width="0.8"/>
<text transform="translate(702.31,236.5) rotate(-90)" text-anchor="end" font-size="8.4" fill="#222">rp</text>
<line x1="700.41" y1="108.2" x2="700.41" y2="118.1" stroke="#444" stroke-width="0.6" stroke-dasharray="1.6,1"/>
<line x1="698.21" y1="108.2" x2="702.61" y2="108.2" stroke="#222" stroke-width="0.7"/>
<line x1="698.21" y1="118.1" x2="702.61" y2="118.1" stroke="#222" stroke-width="0.7"/>
<rect x="696.21" y="108.9" width="8.4" height="5.6" fill="#6cc45a" stroke="#1a1a1a" stroke-width="0.7"/>
<line x1="696.21" y1="111.4" x2="704.61" y2="111.4" stroke="#000" stroke-width="1.8"/>
<line x1="710.8" y1="230.3" x2="710.8" y2="233.70000000000002" stroke="#444" stroke-width="0.8"/>
<text transform="translate(712.7,236.5) rotate(-90)" text-anchor="end" font-size="8.4" fill="#222">rmp_k18</text>
<line x1="710.8" y1="99.2" x2="710.8" y2="109.6" stroke="#444" stroke-width="0.6" stroke-dasharray="1.6,1"/>
<line x1="708.6" y1="99.2" x2="713" y2="99.2" stroke="#222" stroke-width="0.7"/>
<line x1="708.6" y1="109.6" x2="713" y2="109.6" stroke="#222" stroke-width="0.7"/>
<rect x="706.6" y="103.2" width="8.4" height="4.2" fill="#6cc45a" stroke="#1a1a1a" stroke-width="0.7"/>
<line x1="706.6" y1="105.3" x2="715" y2="105.3" stroke="#000" stroke-width="1.8"/>
<line x1="721.2" y1="230.3" x2="721.2" y2="233.70000000000002" stroke="#444" stroke-width="0.8"/>
<text transform="translate(723.1,236.5) rotate(-90)" text-anchor="end" font-size="8.4" fill="#222">r_k18</text>
<line x1="721.2" y1="92.1" x2="721.2" y2="111" stroke="#444" stroke-width="0.6" stroke-dasharray="1.6,1"/>
<line x1="719" y1="92.1" x2="723.4" y2="92.1" stroke="#222" stroke-width="0.7"/>
<line x1="719" y1="111" x2="723.4" y2="111" stroke="#222" stroke-width="0.7"/>
<rect x="717" y="99.6" width="8.4" height="6.7" fill="#6cc45a" stroke="#1a1a1a" stroke-width="0.7"/>
<line x1="717" y1="102.8" x2="725.4" y2="102.8" stroke="#000" stroke-width="1.8"/>
<line x1="731.6" y1="230.3" x2="731.6" y2="233.70000000000002" stroke="#444" stroke-width="0.8"/>
<text transform="translate(733.5,236.5) rotate(-90)" text-anchor="end" font-size="8.4" fill="#222">RDSMaxScore</text>
<line x1="731.6" y1="58.8" x2="731.6" y2="61.6" stroke="#444" stroke-width="0.6" stroke-dasharray="1.6,1"/>
<line x1="729.4" y1="58.8" x2="733.8" y2="58.8" stroke="#222" stroke-width="0.7"/>
<line x1="729.4" y1="61.6" x2="733.8" y2="61.6" stroke="#222" stroke-width="0.7"/>
<rect x="727.4" y="60" width="8.4" height="1.2" fill="#6cc45a" stroke="#1a1a1a" stroke-width="0.7"/>
<line x1="727.4" y1="60.6" x2="735.8" y2="60.6" stroke="#000" stroke-width="1.8"/>
<circle cx="731.6" cy="68.4" r="1.7" fill="none" stroke="#333" stroke-width="0.7"/>
<circle cx="731.6" cy="79.8" r="1.7" fill="none" stroke="#333" stroke-width="0.7"/>
<line x1="741.99" y1="230.3" x2="741.99" y2="233.70000000000002" stroke="#444" stroke-width="0.8"/>
<text transform="translate(743.89,236.5) rotate(-90)" text-anchor="end" font-size="8.4" fill="#222">RDSAvgScore</text>
<line x1="741.99" y1="16.9" x2="741.99" y2="42.5" stroke="#444" stroke-width="0.6" stroke-dasharray="1.6,1"/>
<line x1="739.79" y1="16.9" x2="744.19" y2="16.9" stroke="#222" stroke-width="0.7"/>
<line x1="739.79" y1="42.5" x2="744.19" y2="42.5" stroke="#222" stroke-width="0.7"/>
<rect x="737.79" y="28.2" width="8.4" height="8.3" fill="#6cc45a" stroke="#1a1a1a" stroke-width="0.7"/>
<line x1="737.79" y1="30.5" x2="746.19" y2="30.5" stroke="#000" stroke-width="1.8"/>
<circle cx="741.99" cy="21" r="1.05" fill="none" stroke="#333" stroke-width="0.7"/>
<circle cx="741.99" cy="24.7" r="1.05" fill="none" stroke="#333" stroke-width="0.7"/>
</g>
<g id="C">
<line x1="80.9" y1="316.2" x2="80.9" y2="602.2" stroke="#f5f5f5" stroke-width="0.6"/>
<line x1="149.7" y1="316.2" x2="149.7" y2="602.2" stroke="#f5f5f5" stroke-width="0.6"/>
<line x1="218.5" y1="316.2" x2="218.5" y2="602.2" stroke="#f5f5f5" stroke-width="0.6"/>
<line x1="287.3" y1="316.2" x2="287.3" y2="602.2" stroke="#f5f5f5" stroke-width="0.6"/>
<line x1="35.5" y1="579.1" x2="334.4" y2="579.1" stroke="#f5f5f5" stroke-width="0.6"/>
<line x1="35.5" y1="502.86" x2="334.4" y2="502.86" stroke="#f5f5f5" stroke-width="0.6"/>
<line x1="35.5" y1="426.62" x2="334.4" y2="426.62" stroke="#f5f5f5" stroke-width="0.6"/>
<line x1="35.5" y1="350.38" x2="334.4" y2="350.38" stroke="#f5f5f5" stroke-width="0.6"/>
<line x1="46.5" y1="316.2" x2="46.5" y2="602.2" stroke="#ebebeb" stroke-width="1"/>
<line x1="115.3" y1="316.2" x2="115.3" y2="602.2" stroke="#ebebeb" stroke-width="1"/>
<line x1="184.1" y1="316.2" x2="184.1" y2="602.2" stroke="#ebebeb" stroke-width="1"/>
<line x1="252.9" y1="316.2" x2="252.9" y2="602.2" stroke="#ebebeb" stroke-width="1"/>
<line x1="321.7" y1="316.2" x2="321.7" y2="602.2" stroke="#ebebeb" stroke-width="1"/>
<line x1="35.5" y1="540.98" x2="334.4" y2="540.98" stroke="#ebebeb" stroke-width="1"/>
<line x1="35.5" y1="464.74" x2="334.4" y2="464.74" stroke="#ebebeb" stroke-width="1"/>
<line x1="35.5" y1="388.5" x2="334.4" y2="388.5" stroke="#ebebeb" stroke-width="1"/>
<polyline points="49.25,403.89 52,407.7 54.76,406.16 57.51,406.91 60.26,407.46 63.01,404.63 65.76,401.07 68.52,407.36 71.27,407.63 74.02,405.85 76.77,402.16 79.52,404.34 82.28,401.47 85.03,400.51 87.78,405.82 90.53,405.08 93.28,402.69 96.04,405.26 98.79,409.43 101.54,403.84 104.29,407.25 107.04,403.48 109.8,406.64 112.55,404.62 115.3,405.37 118.05,407.88 120.8,404.67 123.56,405.05 126.31,403.2 129.06,410.6 131.81,405.24 134.56,404.88 137.32,405.65 140.07,406.65 142.82,403.84 145.57,402.15 148.32,406.19 151.08,398.55 153.83,409.74 156.58,407.77 159.33,403.87 162.08,404.07 164.84,405.84 167.59,404.25 170.34,403.19 173.09,408.66 175.84,402.95 178.6,401.65 181.35,403.57 184.1,404.38 186.85,403.21 189.6,405.25 192.36,398.31 195.11,401.03 197.86,403.56 200.61,403.85 203.36,398.99 206.12,404.09 208.87,408.94 211.62,401.73 214.37,406.9 217.12,405.93 219.88,405.77 222.63,400.74 225.38,404.29 228.13,400.48 230.88,404.35 233.64,404.1 236.39,401.19 239.14,406.55 241.89,403.65 244.64,407.68 247.4,405.67 250.15,404.95 252.9,404.03 255.65,405.53 258.4,401.91 261.16,403.47 263.91,400.48 266.66,404.55 269.41,404.68 272.16,404.36 274.92,400.87 277.67,407.94 280.42,406.36 283.17,404.78 285.92,403.3 288.68,405.66 291.43,403.26 294.18,407.07 296.93,401.63 299.68,406.45 302.44,404.62 305.19,404.18 307.94,402.38 310.69,403.22 313.44,402.87 316.2,406.18 318.95,403.99 321.7,403.9" fill="none" stroke="#e88a40" stroke-width="1" stroke-linejoin="round"/>
<circle cx="49.25" cy="403.89" r="1.25" fill="#e88a40"/>
<circle cx="52" cy="407.7" r="1.25" fill="#e88a40"/>
<circle cx="54.76" cy="406.16" r="1.25" fill="#e88a40"/>
<circle cx="57.51" cy="406.91" r="1.25" fill="#e88a40"/>
<circle cx="60.26" cy="407.46" r="1.25" fill="#e88a40"/>
<circle cx="63.01" cy="404.63" r="1.25" fill="#e88a40"/>
<circle cx="65.76" cy="401.07" r="1.25" fill="#e88a40"/>
<circle cx="68.52" cy="407.36" r="1.25" fill="#e88a40"/>
<circle cx="71.27" cy="407.63" r="1.25" fill="#e88a40"/>
<circle cx="74.02" cy="405.85" r="1.25" fill="#e88a40"/>
<circle cx="76.77" cy="402.16" r="1.25" fill="#e88a40"/>
<circle cx="79.52" cy="404.34" r="1.25" fill="#e88a40"/>
<circle cx="82.28" cy="401.47" r="1.25" fill="#e88a40"/>
<circle cx="85.03" cy="400.51" r="1.25" fill="#e88a40"/>
<circle cx="87.78" cy="405.82" r="1.25" fill="#e88a40"/>
<circle cx="90.53" cy="405.08" r="1.25" fill="#e88a40"/>
<circle cx="93.28" cy="402.69" r="1.25" fill="#e88a40"/>
<circle cx="96.04" cy="405.26" r="1.25" fill="#e88a40"/>
<circle cx="98.79" cy="409.43" r="1.25" fill="#e88a40"/>
<circle cx="101.54" cy="403.84" r="1.25" fill="#e88a40"/>
<circle cx="104.29" cy="407.25" r="1.25" fill="#e88a40"/>
<circle cx="107.04" cy="403.48" r="1.25" fill="#e88a40"/>
<circle cx="109.8" cy="406.64" r="1.25" fill="#e88a40"/>
<circle cx="112.55" cy="404.62" r="1.25" fill="#e88a40"/>
<circle cx="115.3" cy="405.37" r="1.25" fill="#e88a40"/>
<circle cx="118.05" cy="407.88" r="1.25" fill="#e88a40"/>
<circle cx="120.8" cy="404.67" r="1.25" fill="#e88a40"/>
<circle cx="123.56" cy="405.05" r="1.25" fill="#e88a40"/>
<circle cx="126.31" cy="403.2" r="1.25" fill="#e88a40"/>
<circle cx="129.06" cy="410.6" r="1.25" fill="#e88a40"/>
<circle cx="131.81" cy="405.24" r="1.25" fill="#e88a40"/>
<circle cx="134.56" cy="404.88" r="1.25" fill="#e88a40"/>
<circle cx="137.32" cy="405.65" r="1.25" fill="#e88a40"/>
<circle cx="140.07" cy="406.65" r="1.25" fill="#e88a40"/>
<circle cx="142.82" cy="403.84" r="1.25" fill="#e88a40"/>
<circle cx="145.57" cy="402.15" r="1.25" fill="#e88a40"/>
<circle cx="148.32" cy="406.19" r="1.25" fill="#e88a40"/>
<circle cx="151.08" cy="398.55" r="1.25" fill="#e88a40"/>
<circle cx="153.83" cy="409.74" r="1.25" fill="#e88a40"/>
<circle cx="156.58" cy="407.77" r="1.25" fill="#e88a40"/>
<circle cx="159.33" cy="403.87" r="1.25" fill="#e88a40"/>
<circle cx="162.08" cy="404.07" r="1.25" fill="#e88a40"/>
<circle cx="164.84" cy="405.84" r="1.25" fill="#e88a40"/>
<circle cx="167.59" cy="404.25" r="1.25" fill="#e88a40"/>
<circle cx="170.34" cy="403.19" r="1.25" fill="#e88a40"/>
<circle cx="173.09" cy="408.66" r="1.25" fill="#e88a40"/>
<circle cx="175.84" cy="402.95" r="1.25" fill="#e88a40"/>
<circle cx="178.6" cy="401.65" r="1.25" fill="#e88a40"/>
<circle cx="181.35" cy="403.57" r="1.25" fill="#e88a40"/>
<circle cx="184.1" cy="404.38" r="1.25" fill="#e88a40"/>
<circle cx="186.85" cy="403.21" r="1.25" fill="#e88a40"/>
<circle cx="189.6" cy="405.25" r="1.25" fill="#e88a40"/>
<circle cx="192.36" cy="398.31" r="1.25" fill="#e88a40"/>
<circle cx="195.11" cy="401.03" r="1.25" fill="#e88a40"/>
<circle cx="197.86" cy="403.56" r="1.25" fill="#e88a40"/>
<circle cx="200.61" cy="403.85" r="1.25" fill="#e88a40"/>
<circle cx="203.36" cy="398.99" r="1.25" fill="#e88a40"/>
<circle cx="206.12" cy="404.09" r="1.25" fill="#e88a40"/>
<circle cx="208.87" cy="408.94" r="1.25" fill="#e88a40"/>
<circle cx="211.62" cy="401.73" r="1.25" fill="#e88a40"/>
<circle cx="214.37" cy="406.9" r="1.25" fill="#e88a40"/>
<circle cx="217.12" cy="405.93" r="1.25" fill="#e88a40"/>
<circle cx="219.88" cy="405.77" r="1.25" fill="#e88a40"/>
<circle cx="222.63" cy="400.74" r="1.25" fill="#e88a40"/>
<circle cx="225.38" cy="404.29" r="1.25" fill="#e88a40"/>
<circle cx="228.13" cy="400.48" r="1.25" fill="#e88a40"/>
<circle cx="230.88" cy="404.35" r="1.25" fill="#e88a40"/>
<circle cx="233.64" cy="404.1" r="1.25" fill="#e88a40"/>
<circle cx="236.39" cy="401.19" r="1.25" fill="#e88a40"/>
<circle cx="239.14" cy="406.55" r="1.25" fill="#e88a40"/>
<circle cx="241.89" cy="403.65" r="1.25" fill="#e88a40"/>
<circle cx="244.64" cy="407.68" r="1.25" fill="#e88a40"/>
<circle cx="247.4" cy="405.67" r="1.25" fill="#e88a40"/>
<circle cx="250.15" cy="404.95" r="1.25" fill="#e88a40"/>
<circle cx="252.9" cy="404.03" r="1.25" fill="#e88a40"/>
<circle cx="255.65" cy="405.53" r="1.25" fill="#e88a40"/>
<circle cx="258.4" cy="401.91" r="1.25" fill="#e88a40"/>
<circle cx="261.16" cy="403.47" r="1.25" fill="#e88a40"/>
<circle cx="263.91" cy="400.48" r="1.25" fill="#e88a40"/>
<circle cx="266.66" cy="404.55" r="1.25" fill="#e88a40"/>
<circle cx="269.41" cy="404.68" r="1.25" fill="#e88a40"/>
<circle cx="272.16" cy="404.36" r="1.25" fill="#e88a40"/>
<circle cx="274.92" cy="400.87" r="1.25" fill="#e88a40"/>
<circle cx="277.67" cy="407.94" r="1.25" fill="#e88a40"/>
<circle cx="280.42" cy="406.36" r="1.25" fill="#e88a40"/>
<circle cx="283.17" cy="404.78" r="1.25" fill="#e88a40"/>
<circle cx="285.92" cy="403.3" r="1.25" fill="#e88a40"/>
<circle cx="288.68" cy="405.66" r="1.25" fill="#e88a40"/>
<circle cx="291.43" cy="403.26" r="1.25" fill="#e88a40"/>
<circle cx="294.18" cy="407.07" r="1.25" fill="#e88a40"/>
<circle cx="296.93" cy="401.63" r="1.25" fill="#e88a40"/>
<circle cx="299.68" cy="406.45" r="1.25" fill="#e88a40"/>
<circle cx="302.44" cy="404.62" r="1.25" fill="#e88a40"/>
<circle cx="305.19" cy="404.18" r="1.25" fill="#e88a40"/>
<circle cx="307.94" cy="402.38" r="1.25" fill="#e88a40"/>
<circle cx="310.69" cy="403.22" r="1.25" fill="#e88a40"/>
<circle cx="313.44" cy="402.87" r="1.25" fill="#e88a40"/>
<circle cx="316.2" cy="406.18" r="1.25" fill="#e88a40"/>
<circle cx="318.95" cy="403.99" r="1.25" fill="#e88a40"/>
<circle cx="321.7" cy="403.9" r="1.25" fill="#e88a40"/>
<polyline points="49.25,406.15 52,406.7 54.76,408.21 57.51,400.27 60.26,398.49 63.01,396.16 65.76,404.79 68.52,404.38 71.27,405.06 74.02,405.74 76.77,397.26 79.52,402.73 82.28,399.86 85.03,392.06 87.78,402.73 90.53,400.54 93.28,396.16 96.04,396.44 98.79,413.95 101.54,401.64 104.29,400.95 107.04,400.68 109.8,403.69 112.55,400.27 115.3,403.42 118.05,404.79 120.8,400.68 123.56,407.52 126.31,396.58 129.06,408.48 131.81,400.95 134.56,405.06 137.32,405.06 140.07,398.49 142.82,396.85 145.57,400.27 148.32,400.95 151.08,393.02 153.83,407.8 156.58,405.06 159.33,404.1 162.08,403.69 164.84,408.48 167.59,402.32 170.34,402.32 173.09,402.05 175.84,398.22 178.6,398.49 181.35,406.43 184.1,406.7 186.85,400.27 189.6,401.64 192.36,388.91 195.11,398.9 197.86,404.38 200.61,398.9 203.36,397.53 206.12,400.27 208.87,408.48 211.62,393.02 214.37,409.85 217.12,409.16 219.88,399.86 222.63,402.73 225.38,398.49 228.13,399.86 230.88,411.22 233.64,405.06 236.39,398.22 239.14,407.11 241.89,399.59 244.64,403.01 247.4,403.01 250.15,405.06 252.9,394.8 255.65,397.12 258.4,391.38 261.16,403.42 263.91,399.59 266.66,401.64 269.41,404.38 272.16,405.74 274.92,389.32 277.67,406.15 280.42,403.42 283.17,408.48 285.92,400.95 288.68,399.59 291.43,400.68 294.18,402.32 296.93,398.9 299.68,404.38 302.44,401.64 305.19,400.95 307.94,408.48 310.69,397.53 313.44,396.16 316.2,404.79 318.95,398.9 321.7,402.05" fill="none" stroke="#4aa84a" stroke-width="1" stroke-linejoin="round"/>
<circle cx="49.25" cy="406.15" r="1.25" fill="#4aa84a"/>
<circle cx="52" cy="406.7" r="1.25" fill="#4aa84a"/>
<circle cx="54.76" cy="408.21" r="1.25" fill="#4aa84a"/>
<circle cx="57.51" cy="400.27" r="1.25" fill="#4aa84a"/>
<circle cx="60.26" cy="398.49" r="1.25" fill="#4aa84a"/>
<circle cx="63.01" cy="396.16" r="1.25" fill="#4aa84a"/>
<circle cx="65.76" cy="404.79" r="1.25" fill="#4aa84a"/>
<circle cx="68.52" cy="404.38" r="1.25" fill="#4aa84a"/>
<circle cx="71.27" cy="405.06" r="1.25" fill="#4aa84a"/>
<circle cx="74.02" cy="405.74" r="1.25" fill="#4aa84a"/>
<circle cx="76.77" cy="397.26" r="1.25" fill="#4aa84a"/>
<circle cx="79.52" cy="402.73" r="1.25" fill="#4aa84a"/>
<circle cx="82.28" cy="399.86" r="1.25" fill="#4aa84a"/>
<circle cx="85.03" cy="392.06" r="1.25" fill="#4aa84a"/>
<circle cx="87.78" cy="402.73" r="1.25" fill="#4aa84a"/>
<circle cx="90.53" cy="400.54" r="1.25" fill="#4aa84a"/>
<circle cx="93.28" cy="396.16" r="1.25" fill="#4aa84a"/>
<circle cx="96.04" cy="396.44" r="1.25" fill="#4aa84a"/>
<circle cx="98.79" cy="413.95" r="1.25" fill="#4aa84a"/>
<circle cx="101.54" cy="401.64" r="1.25" fill="#4aa84a"/>
<circle cx="104.29" cy="400.95" r="1.25" fill="#4aa84a"/>
<circle cx="107.04" cy="400.68" r="1.25" fill="#4aa84a"/>
<circle cx="109.8" cy="403.69" r="1.25" fill="#4aa84a"/>
<circle cx="112.55" cy="400.27" r="1.25" fill="#4aa84a"/>
<circle cx="115.3" cy="403.42" r="1.25" fill="#4aa84a"/>
<circle cx="118.05" cy="404.79" r="1.25" fill="#4aa84a"/>
<circle cx="120.8" cy="400.68" r="1.25" fill="#4aa84a"/>
<circle cx="123.56" cy="407.52" r="1.25" fill="#4aa84a"/>
<circle cx="126.31" cy="396.58" r="1.25" fill="#4aa84a"/>
<circle cx="129.06" cy="408.48" r="1.25" fill="#4aa84a"/>
<circle cx="131.81" cy="400.95" r="1.25" fill="#4aa84a"/>
<circle cx="134.56" cy="405.06" r="1.25" fill="#4aa84a"/>
<circle cx="137.32" cy="405.06" r="1.25" fill="#4aa84a"/>
<circle cx="140.07" cy="398.49" r="1.25" fill="#4aa84a"/>
<circle cx="142.82" cy="396.85" r="1.25" fill="#4aa84a"/>
<circle cx="145.57" cy="400.27" r="1.25" fill="#4aa84a"/>
<circle cx="148.32" cy="400.95" r="1.25" fill="#4aa84a"/>
<circle cx="151.08" cy="393.02" r="1.25" fill="#4aa84a"/>
<circle cx="153.83" cy="407.8" r="1.25" fill="#4aa84a"/>
<circle cx="156.58" cy="405.06" r="1.25" fill="#4aa84a"/>
<circle cx="159.33" cy="404.1" r="1.25" fill="#4aa84a"/>
<circle cx="162.08" cy="403.69" r="1.25" fill="#4aa84a"/>
<circle cx="164.84" cy="408.48" r="1.25" fill="#4aa84a"/>
<circle cx="167.59" cy="402.32" r="1.25" fill="#4aa84a"/>
<circle cx="170.34" cy="402.32" r="1.25" fill="#4aa84a"/>
<circle cx="173.09" cy="402.05" r="1.25" fill="#4aa84a"/>
<circle cx="175.84" cy="398.22" r="1.25" fill="#4aa84a"/>
<circle cx="178.6" cy="398.49" r="1.25" fill="#4aa84a"/>
<circle cx="181.35" cy="406.43" r="1.25" fill="#4aa84a"/>
<circle cx="184.1" cy="406.7" r="1.25" fill="#4aa84a"/>
<circle cx="186.85" cy="400.27" r="1.25" fill="#4aa84a"/>
<circle cx="189.6" cy="401.64" r="1.25" fill="#4aa84a"/>
<circle cx="192.36" cy="388.91" r="1.25" fill="#4aa84a"/>
<circle cx="195.11" cy="398.9" r="1.25" fill="#4aa84a"/>
<circle cx="197.86" cy="404.38" r="1.25" fill="#4aa84a"/>
<circle cx="200.61" cy="398.9" r="1.25" fill="#4aa84a"/>
<circle cx="203.36" cy="397.53" r="1.25" fill="#4aa84a"/>
<circle cx="206.12" cy="400.27" r="1.25" fill="#4aa84a"/>
<circle cx="208.87" cy="408.48" r="1.25" fill="#4aa84a"/>
<circle cx="211.62" cy="393.02" r="1.25" fill="#4aa84a"/>
<circle cx="214.37" cy="409.85" r="1.25" fill="#4aa84a"/>
<circle cx="217.12" cy="409.16" r="1.25" fill="#4aa84a"/>
<circle cx="219.88" cy="399.86" r="1.25" fill="#4aa84a"/>
<circle cx="222.63" cy="402.73" r="1.25" fill="#4aa84a"/>
<circle cx="225.38" cy="398.49" r="1.25" fill="#4aa84a"/>
<circle cx="228.13" cy="399.86" r="1.25" fill="#4aa84a"/>
<circle cx="230.88" cy="411.22" r="1.25" fill="#4aa84a"/>
<circle cx="233.64" cy="405.06" r="1.25" fill="#4aa84a"/>
<circle cx="236.39" cy="398.22" r="1.25" fill="#4aa84a"/>
<circle cx="239.14" cy="407.11" r="1.25" fill="#4aa84a"/>
<circle cx="241.89" cy="399.59" r="1.25" fill="#4aa84a"/>
<circle cx="244.64" cy="403.01" r="1.25" fill="#4aa84a"/>
<circle cx="247.4" cy="403.01" r="1.25" fill="#4aa84a"/>
<circle cx="250.15" cy="405.06" r="1.25" fill="#4aa84a"/>
<circle cx="252.9" cy="394.8" r="1.25" fill="#4aa84a"/>
<circle cx="255.65" cy="397.12" r="1.25" fill="#4aa84a"/>
<circle cx="258.4" cy="391.38" r="1.25" fill="#4aa84a"/>
<circle cx="261.16" cy="403.42" r="1.25" fill="#4aa84a"/>
<circle cx="263.91" cy="399.59" r="1.25" fill="#4aa84a"/>
<circle cx="266.66" cy="401.64" r="1.25" fill="#4aa84a"/>
<circle cx="269.41" cy="404.38" r="1.25" fill="#4aa84a"/>
<circle cx="272.16" cy="405.74" r="1.25" fill="#4aa84a"/>
<circle cx="274.92" cy="389.32" r="1.25" fill="#4aa84a"/>
<circle cx="277.67" cy="406.15" r="1.25" fill="#4aa84a"/>
<circle cx="280.42" cy="403.42" r="1.25" fill="#4aa84a"/>
<circle cx="283.17" cy="408.48" r="1.25" fill="#4aa84a"/>
<circle cx="285.92" cy="400.95" r="1.25" fill="#4aa84a"/>
<circle cx="288.68" cy="399.59" r="1.25" fill="#4aa84a"/>
<circle cx="291.43" cy="400.68" r="1.25" fill="#4aa84a"/>
<circle cx="294.18" cy="402.32" r="1.25" fill="#4aa84a"/>
<circle cx="296.93" cy="398.9" r="1.25" fill="#4aa84a"/>
<circle cx="299.68" cy="404.38" r="1.25" fill="#4aa84a"/>
<circle cx="302.44" cy="401.64" r="1.25" fill="#4aa84a"/>
<circle cx="305.19" cy="400.95" r="1.25" fill="#4aa84a"/>
<circle cx="307.94" cy="408.48" r="1.25" fill="#4aa84a"/>
<circle cx="310.69" cy="397.53" r="1.25" fill="#4aa84a"/>
<circle cx="313.44" cy="396.16" r="1.25" fill="#4aa84a"/>
<circle cx="316.2" cy="404.79" r="1.25" fill="#4aa84a"/>
<circle cx="318.95" cy="398.9" r="1.25" fill="#4aa84a"/>
<circle cx="321.7" cy="402.05" r="1.25" fill="#4aa84a"/>
<polyline points="49.25,342.85 52,343.27 54.76,344.43 57.51,338.32 60.26,336.95 63.01,335.17 65.76,341.8 68.52,341.48 71.27,342.01 74.02,342.53 76.77,336.01 79.52,340.22 82.28,338.01 85.03,332.01 87.78,340.22 90.53,338.53 93.28,335.17 96.04,335.38 98.79,348.85 101.54,339.38 104.29,338.85 107.04,338.64 109.8,340.95 112.55,338.32 115.3,340.74 118.05,341.8 120.8,338.64 123.56,343.9 126.31,335.48 129.06,344.64 131.81,338.85 134.56,342.01 137.32,342.01 140.07,336.95 142.82,335.69 145.57,338.32 148.32,338.85 151.08,332.74 153.83,344.11 156.58,342.01 159.33,341.27 162.08,340.95 164.84,344.64 167.59,339.9 170.34,339.9 173.09,339.69 175.84,336.74 178.6,336.95 181.35,343.06 184.1,343.27 186.85,338.32 189.6,339.38 192.36,329.59 195.11,337.27 197.86,341.48 200.61,337.27 203.36,336.22 206.12,338.32 208.87,344.64 211.62,332.74 214.37,345.69 217.12,345.17 219.88,338.01 222.63,340.22 225.38,336.95 228.13,338.01 230.88,346.74 233.64,342.01 236.39,336.74 239.14,343.59 241.89,337.8 244.64,340.43 247.4,340.43 250.15,342.01 252.9,334.11 255.65,335.9 258.4,331.48 261.16,340.74 263.91,337.8 266.66,339.38 269.41,341.48 272.16,342.53 274.92,329.9 277.67,342.85 280.42,340.74 283.17,344.64 285.92,338.85 288.68,337.8 291.43,338.64 294.18,339.9 296.93,337.27 299.68,341.48 302.44,339.38 305.19,338.85 307.94,344.64 310.69,336.22 313.44,335.17 316.2,341.8 318.95,337.27 321.7,339.69" fill="none" stroke="#d0303a" stroke-width="1" stroke-linejoin="round"/>
<circle cx="49.25" cy="342.85" r="1.25" fill="#d0303a"/>
<circle cx="52" cy="343.27" r="1.25" fill="#d0303a"/>
<circle cx="54.76" cy="344.43" r="1.25" fill="#d0303a"/>
<circle cx="57.51" cy="338.32" r="1.25" fill="#d0303a"/>
<circle cx="60.26" cy="336.95" r="1.25" fill="#d0303a"/>
<circle cx="63.01" cy="335.17" r="1.25" fill="#d0303a"/>
<circle cx="65.76" cy="341.8" r="1.25" fill="#d0303a"/>
<circle cx="68.52" cy="341.48" r="1.25" fill="#d0303a"/>
<circle cx="71.27" cy="342.01" r="1.25" fill="#d0303a"/>
<circle cx="74.02" cy="342.53" r="1.25" fill="#d0303a"/>
<circle cx="76.77" cy="336.01" r="1.25" fill="#d0303a"/>
<circle cx="79.52" cy="340.22" r="1.25" fill="#d0303a"/>
<circle cx="82.28" cy="338.01" r="1.25" fill="#d0303a"/>
<circle cx="85.03" cy="332.01" r="1.25" fill="#d0303a"/>
<circle cx="87.78" cy="340.22" r="1.25" fill="#d0303a"/>
<circle cx="90.53" cy="338.53" r="1.25" fill="#d0303a"/>
<circle cx="93.28" cy="335.17" r="1.25" fill="#d0303a"/>
<circle cx="96.04" cy="335.38" r="1.25" fill="#d0303a"/>
<circle cx="98.79" cy="348.85" r="1.25" fill="#d0303a"/>
<circle cx="101.54" cy="339.38" r="1.25" fill="#d0303a"/>
<circle cx="104.29" cy="338.85" r="1.25" fill="#d0303a"/>
<circle cx="107.04" cy="338.64" r="1.25" fill="#d0303a"/>
<circle cx="109.8" cy="340.95" r="1.25" fill="#d0303a"/>
<circle cx="112.55" cy="338.32" r="1.25" fill="#d0303a"/>
<circle cx="115.3" cy="340.74" r="1.25" fill="#d0303a"/>
<circle cx="118.05" cy="341.8" r="1.25" fill="#d0303a"/>
<circle cx="120.8" cy="338.64" r="1.25" fill="#d0303a"/>
<circle cx="123.56" cy="343.9" r="1.25" fill="#d0303a"/>
<circle cx="126.31" cy="335.48" r="1.25" fill="#d0303a"/>
<circle cx="129.06" cy="344.64" r="1.25" fill="#d0303a"/>
<circle cx="131.81" cy="338.85" r="1.25" fill="#d0303a"/>
<circle cx="134.56" cy="342.01" r="1.25" fill="#d0303a"/>
<circle cx="137.32" cy="342.01" r="1.25" fill="#d0303a"/>
<circle cx="140.07" cy="336.95" r="1.25" fill="#d0303a"/>
<circle cx="142.82" cy="335.69" r="1.25" fill="#d0303a"/>
<circle cx="145.57" cy="338.32" r="1.25" fill="#d0303a"/>
<circle cx="148.32" cy="338.85" r="1.25" fill="#d0303a"/>
<circle cx="151.08" cy="332.74" r="1.25" fill="#d0303a"/>
<circle cx="153.83" cy="344.11" r="1.25" fill="#d0303a"/>
<circle cx="156.58" cy="342.01" r="1.25" fill="#d0303a"/>
<circle cx="159.33" cy="341.27" r="1.25" fill="#d0303a"/>
<circle cx="162.08" cy="340.95" r="1.25" fill="#d0303a"/>
<circle cx="164.84" cy="344.64" r="1.25" fill="#d0303a"/>
<circle cx="167.59" cy="339.9" r="1.25" fill="#d0303a"/>
<circle cx="170.34" cy="339.9" r="1.25" fill="#d0303a"/>
<circle cx="173.09" cy="339.69" r="1.25" fill="#d0303a"/>
<circle cx="175.84" cy="336.74" r="1.25" fill="#d0303a"/>
<circle cx="178.6" cy="336.95" r="1.25" fill="#d0303a"/>
<circle cx="181.35" cy="343.06" r="1.25" fill="#d0303a"/>
<circle cx="184.1" cy="343.27" r="1.25" fill="#d0303a"/>
<circle cx="186.85" cy="338.32" r="1.25" fill="#d0303a"/>
<circle cx="189.6" cy="339.38" r="1.25" fill="#d0303a"/>
<circle cx="192.36" cy="329.59" r="1.25" fill="#d0303a"/>
<circle cx="195.11" cy="337.27" r="1.25" fill="#d0303a"/>
<circle cx="197.86" cy="341.48" r="1.25" fill="#d0303a"/>
<circle cx="200.61" cy="337.27" r="1.25" fill="#d0303a"/>
<circle cx="203.36" cy="336.22" r="1.25" fill="#d0303a"/>
<circle cx="206.12" cy="338.32" r="1.25" fill="#d0303a"/>
<circle cx="208.87" cy="344.64" r="1.25" fill="#d0303a"/>
<circle cx="211.62" cy="332.74" r="1.25" fill="#d0303a"/>
<circle cx="214.37" cy="345.69" r="1.25" fill="#d0303a"/>
<circle cx="217.12" cy="345.17" r="1.25" fill="#d0303a"/>
<circle cx="219.88" cy="338.01" r="1.25" fill="#d0303a"/>
<circle cx="222.63" cy="340.22" r="1.25" fill="#d0303a"/>
<circle cx="225.38" cy="336.95" r="1.25" fill="#d0303a"/>
<circle cx="228.13" cy="338.01" r="1.25" fill="#d0303a"/>
<circle cx="230.88" cy="346.74" r="1.25" fill="#d0303a"/>
<circle cx="233.64" cy="342.01" r="1.25" fill="#d0303a"/>
<circle cx="236.39" cy="336.74" r="1.25" fill="#d0303a"/>
<circle cx="239.14" cy="343.59" r="1.25" fill="#d0303a"/>
<circle cx="241.89" cy="337.8" r="1.25" fill="#d0303a"/>
<circle cx="244.64" cy="340.43" r="1.25" fill="#d0303a"/>
<circle cx="247.4" cy="340.43" r="1.25" fill="#d0303a"/>
<circle cx="250.15" cy="342.01" r="1.25" fill="#d0303a"/>
<circle cx="252.9" cy="334.11" r="1.25" fill="#d0303a"/>
<circle cx="255.65" cy="335.9" r="1.25" fill="#d0303a"/>
<circle cx="258.4" cy="331.48" r="1.25" fill="#d0303a"/>
<circle cx="261.16" cy="340.74" r="1.25" fill="#d0303a"/>
<circle cx="263.91" cy="337.8" r="1.25" fill="#d0303a"/>
<circle cx="266.66" cy="339.38" r="1.25" fill="#d0303a"/>
<circle cx="269.41" cy="341.48" r="1.25" fill="#d0303a"/>
<circle cx="272.16" cy="342.53" r="1.25" fill="#d0303a"/>
<circle cx="274.92" cy="329.9" r="1.25" fill="#d0303a"/>
<circle cx="277.67" cy="342.85" r="1.25" fill="#d0303a"/>
<circle cx="280.42" cy="340.74" r="1.25" fill="#d0303a"/>
<circle cx="283.17" cy="344.64" r="1.25" fill="#d0303a"/>
<circle cx="285.92" cy="338.85" r="1.25" fill="#d0303a"/>
<circle cx="288.68" cy="337.8" r="1.25" fill="#d0303a"/>
<circle cx="291.43" cy="338.64" r="1.25" fill="#d0303a"/>
<circle cx="294.18" cy="339.9" r="1.25" fill="#d0303a"/>
<circle cx="296.93" cy="337.27" r="1.25" fill="#d0303a"/>
<circle cx="299.68" cy="341.48" r="1.25" fill="#d0303a"/>
<circle cx="302.44" cy="339.38" r="1.25" fill="#d0303a"/>
<circle cx="305.19" cy="338.85" r="1.25" fill="#d0303a"/>
<circle cx="307.94" cy="344.64" r="1.25" fill="#d0303a"/>
<circle cx="310.69" cy="336.22" r="1.25" fill="#d0303a"/>
<circle cx="313.44" cy="335.17" r="1.25" fill="#d0303a"/>
<circle cx="316.2" cy="341.8" r="1.25" fill="#d0303a"/>
<circle cx="318.95" cy="337.27" r="1.25" fill="#d0303a"/>
<circle cx="321.7" cy="339.69" r="1.25" fill="#d0303a"/>
<polyline points="49.25,456.96 52,462.54 54.76,459.96 57.51,462.59 60.26,463.75 63.01,459.96 65.76,453.01 68.52,462.49 71.27,462.75 74.02,459.96 76.77,456.07 79.52,458.28 82.28,454.54 85.03,454.59 87.78,460.49 90.53,459.8 93.28,457.07 96.04,460.86 98.79,463.75 101.54,457.75 104.29,462.96 107.04,457.38 109.8,461.54 112.55,459.17 115.3,459.7 118.05,463.17 120.8,459.17 123.56,458.44 126.31,457.75 129.06,466.54 131.81,459.96 134.56,458.65 137.32,459.8 140.07,462.54 142.82,458.65 145.57,455.49 148.32,461.38 151.08,451.49 153.83,465.38 156.58,462.96 159.33,457.33 162.08,457.7 164.84,459.44 167.59,458.22 170.34,456.65 173.09,464.86 175.84,457.07 178.6,455.07 181.35,456.44 184.1,457.59 186.85,457.07 189.6,459.86 192.36,451.91 195.11,454.07 197.86,456.8 200.61,458.28 203.36,451.28 206.12,458.38 208.87,464.07 211.62,456.22 214.37,460.75 217.12,459.44 219.88,460.96 222.63,452.91 225.38,459.01 228.13,453.07 230.88,456.7 233.64,457.49 236.39,454.44 239.14,460.75 241.89,457.86 244.64,463.22 247.4,460.22 250.15,458.75 252.9,459.33 255.65,461.12 258.4,456.8 261.16,456.86 263.91,453.12 266.66,458.8 269.41,458.49 272.16,457.75 274.92,455.65 277.67,463.01 280.42,461.17 283.17,457.86 285.92,457.07 288.68,460.86 291.43,457.07 294.18,462.44 296.93,454.96 299.68,461.12 302.44,458.91 305.19,458.38 307.94,454.28 310.69,457.59 313.44,457.33 316.2,460.65 318.95,458.49 321.7,457.75" fill="none" stroke="#e08cb8" stroke-width="1" stroke-linejoin="round"/>
<circle cx="49.25" cy="456.96" r="1.25" fill="#e08cb8"/>
<circle cx="52" cy="462.54" r="1.25" fill="#e08cb8"/>
<circle cx="54.76" cy="459.96" r="1.25" fill="#e08cb8"/>
<circle cx="57.51" cy="462.59" r="1.25" fill="#e08cb8"/>
<circle cx="60.26" cy="463.75" r="1.25" fill="#e08cb8"/>
<circle cx="63.01" cy="459.96" r="1.25" fill="#e08cb8"/>
<circle cx="65.76" cy="453.01" r="1.25" fill="#e08cb8"/>
<circle cx="68.52" cy="462.49" r="1.25" fill="#e08cb8"/>
<circle cx="71.27" cy="462.75" r="1.25" fill="#e08cb8"/>
<circle cx="74.02" cy="459.96" r="1.25" fill="#e08cb8"/>
<circle cx="76.77" cy="456.07" r="1.25" fill="#e08cb8"/>
<circle cx="79.52" cy="458.28" r="1.25" fill="#e08cb8"/>
<circle cx="82.28" cy="454.54" r="1.25" fill="#e08cb8"/>
<circle cx="85.03" cy="454.59" r="1.25" fill="#e08cb8"/>
<circle cx="87.78" cy="460.49" r="1.25" fill="#e08cb8"/>
<circle cx="90.53" cy="459.8" r="1.25" fill="#e08cb8"/>
<circle cx="93.28" cy="457.07" r="1.25" fill="#e08cb8"/>
<circle cx="96.04" cy="460.86" r="1.25" fill="#e08cb8"/>
<circle cx="98.79" cy="463.75" r="1.25" fill="#e08cb8"/>
<circle cx="101.54" cy="457.75" r="1.25" fill="#e08cb8"/>
<circle cx="104.29" cy="462.96" r="1.25" fill="#e08cb8"/>
<circle cx="107.04" cy="457.38" r="1.25" fill="#e08cb8"/>
<circle cx="109.8" cy="461.54" r="1.25" fill="#e08cb8"/>
<circle cx="112.55" cy="459.17" r="1.25" fill="#e08cb8"/>
<circle cx="115.3" cy="459.7" r="1.25" fill="#e08cb8"/>
<circle cx="118.05" cy="463.17" r="1.25" fill="#e08cb8"/>
<circle cx="120.8" cy="459.17" r="1.25" fill="#e08cb8"/>
<circle cx="123.56" cy="458.44" r="1.25" fill="#e08cb8"/>
<circle cx="126.31" cy="457.75" r="1.25" fill="#e08cb8"/>
<circle cx="129.06" cy="466.54" r="1.25" fill="#e08cb8"/>
<circle cx="131.81" cy="459.96" r="1.25" fill="#e08cb8"/>
<circle cx="134.56" cy="458.65" r="1.25" fill="#e08cb8"/>
<circle cx="137.32" cy="459.8" r="1.25" fill="#e08cb8"/>
<circle cx="140.07" cy="462.54" r="1.25" fill="#e08cb8"/>
<circle cx="142.82" cy="458.65" r="1.25" fill="#e08cb8"/>
<circle cx="145.57" cy="455.49" r="1.25" fill="#e08cb8"/>
<circle cx="148.32" cy="461.38" r="1.25" fill="#e08cb8"/>
<circle cx="151.08" cy="451.49" r="1.25" fill="#e08cb8"/>
<circle cx="153.83" cy="465.38" r="1.25" fill="#e08cb8"/>
<circle cx="156.58" cy="462.96" r="1.25" fill="#e08cb8"/>
<circle cx="159.33" cy="457.33" r="1.25" fill="#e08cb8"/>
<circle cx="162.08" cy="457.7" r="1.25" fill="#e08cb8"/>
<circle cx="164.84" cy="459.44" r="1.25" fill="#e08cb8"/>
<circle cx="167.59" cy="458.22" r="1.25" fill="#e08cb8"/>
<circle cx="170.34" cy="456.65" r="1.25" fill="#e08cb8"/>
<circle cx="173.09" cy="464.86" r="1.25" fill="#e08cb8"/>
<circle cx="175.84" cy="457.07" r="1.25" fill="#e08cb8"/>
<circle cx="178.6" cy="455.07" r="1.25" fill="#e08cb8"/>
<circle cx="181.35" cy="456.44" r="1.25" fill="#e08cb8"/>
<circle cx="184.1" cy="457.59" r="1.25" fill="#e08cb8"/>
<circle cx="186.85" cy="457.07" r="1.25" fill="#e08cb8"/>
<circle cx="189.6" cy="459.86" r="1.25" fill="#e08cb8"/>
<circle cx="192.36" cy="451.91" r="1.25" fill="#e08cb8"/>
<circle cx="195.11" cy="454.07" r="1.25" fill="#e08cb8"/>
<circle cx="197.86" cy="456.8" r="1.25" fill="#e08cb8"/>
<circle cx="200.61" cy="458.28" r="1.25" fill="#e08cb8"/>
<circle cx="203.36" cy="451.28" r="1.25" fill="#e08cb8"/>
<circle cx="206.12" cy="458.38" r="1.25" fill="#e08cb8"/>
<circle cx="208.87" cy="464.07" r="1.25" fill="#e08cb8"/>
<circle cx="211.62" cy="456.22" r="1.25" fill="#e08cb8"/>
<circle cx="214.37" cy="460.75" r="1.25" fill="#e08cb8"/>
<circle cx="217.12" cy="459.44" r="1.25" fill="#e08cb8"/>
<circle cx="219.88" cy="460.96" r="1.25" fill="#e08cb8"/>
<circle cx="222.63" cy="452.91" r="1.25" fill="#e08cb8"/>
<circle cx="225.38" cy="459.01" r="1.25" fill="#e08cb8"/>
<circle cx="228.13" cy="453.07" r="1.25" fill="#e08cb8"/>
<circle cx="230.88" cy="456.7" r="1.25" fill="#e08cb8"/>
<circle cx="233.64" cy="457.49" r="1.25" fill="#e08cb8"/>
<circle cx="236.39" cy="454.44" r="1.25" fill="#e08cb8"/>
<circle cx="239.14" cy="460.75" r="1.25" fill="#e08cb8"/>
<circle cx="241.89" cy="457.86" r="1.25" fill="#e08cb8"/>
<circle cx="244.64" cy="463.22" r="1.25" fill="#e08cb8"/>
<circle cx="247.4" cy="460.22" r="1.25" fill="#e08cb8"/>
<circle cx="250.15" cy="458.75" r="1.25" fill="#e08cb8"/>
<circle cx="252.9" cy="459.33" r="1.25" fill="#e08cb8"/>
<circle cx="255.65" cy="461.12" r="1.25" fill="#e08cb8"/>
<circle cx="258.4" cy="456.8" r="1.25" fill="#e08cb8"/>
<circle cx="261.16" cy="456.86" r="1.25" fill="#e08cb8"/>
<circle cx="263.91" cy="453.12" r="1.25" fill="#e08cb8"/>
<circle cx="266.66" cy="458.8" r="1.25" fill="#e08cb8"/>
<circle cx="269.41" cy="458.49" r="1.25" fill="#e08cb8"/>
<circle cx="272.16" cy="457.75" r="1.25" fill="#e08cb8"/>
<circle cx="274.92" cy="455.65" r="1.25" fill="#e08cb8"/>
<circle cx="277.67" cy="463.01" r="1.25" fill="#e08cb8"/>
<circle cx="280.42" cy="461.17" r="1.25" fill="#e08cb8"/>
<circle cx="283.17" cy="457.86" r="1.25" fill="#e08cb8"/>
<circle cx="285.92" cy="457.07" r="1.25" fill="#e08cb8"/>
<circle cx="288.68" cy="460.86" r="1.25" fill="#e08cb8"/>
<circle cx="291.43" cy="457.07" r="1.25" fill="#e08cb8"/>
<circle cx="294.18" cy="462.44" r="1.25" fill="#e08cb8"/>
<circle cx="296.93" cy="454.96" r="1.25" fill="#e08cb8"/>
<circle cx="299.68" cy="461.12" r="1.25" fill="#e08cb8"/>
<circle cx="302.44" cy="458.91" r="1.25" fill="#e08cb8"/>
<circle cx="305.19" cy="458.38" r="1.25" fill="#e08cb8"/>
<circle cx="307.94" cy="454.28" r="1.25" fill="#e08cb8"/>
<circle cx="310.69" cy="457.59" r="1.25" fill="#e08cb8"/>
<circle cx="313.44" cy="457.33" r="1.25" fill="#e08cb8"/>
<circle cx="316.2" cy="460.65" r="1.25" fill="#e08cb8"/>
<circle cx="318.95" cy="458.49" r="1.25" fill="#e08cb8"/>
<circle cx="321.7" cy="457.75" r="1.25" fill="#e08cb8"/>
<polyline points="49.25,466.23 52,473.42 54.76,469.19 57.51,476.81 60.26,479.27 63.01,475.39 65.76,461.64 68.52,474.55 71.27,474.55 74.02,470.46 76.77,469.61 79.52,469.75 82.28,466.23 85.03,470.32 87.78,472.71 90.53,472.93 93.28,471.52 96.04,476.45 98.79,471.3 101.54,469.61 104.29,476.95 107.04,469.61 109.8,473.63 112.55,472.22 115.3,471.3 118.05,475.25 120.8,472.01 123.56,467.5 126.31,472.22 129.06,477.86 131.81,472.93 134.56,469.05 137.32,470.6 140.07,477.65 142.82,473.28 145.57,467.28 148.32,474.83 151.08,465.66 153.83,476.66 156.58,474.83 159.33,467.78 162.08,468.48 164.84,468.34 167.59,469.89 170.34,467.78 173.09,478.92 175.84,470.46 178.6,467.64 181.35,465.38 184.1,466.79 186.85,469.4 189.6,472.43 192.36,468.34 195.11,466.09 197.86,466.93 200.61,471.73 203.36,463.05 206.12,471.16 208.87,474.55 211.62,472.01 214.37,469.4 217.12,467.99 219.88,474.83 222.63,462.56 225.38,472.93 228.13,464.25 230.88,463.26 233.64,467.5 236.39,466.93 239.14,470.81 241.89,470.81 244.64,476.24 247.4,472.22 250.15,469.19 252.9,475.25 255.65,476.45 258.4,473.63 261.16,467.5 263.91,464.46 266.66,471.02 269.41,469.19 272.16,467.5 274.92,473.14 277.67,474.34 280.42,473.28 283.17,466.23 285.92,469.05 288.68,474.83 291.43,469.19 294.18,475.54 296.93,467.28 299.68,472.71 302.44,471.16 305.19,470.81 307.94,461.43 310.69,471.52 313.44,471.87 316.2,471.87 318.95,472.01 321.7,469.4" fill="none" stroke="#67498f" stroke-width="1" stroke-linejoin="round"/>
<circle cx="49.25" cy="466.23" r="1.25" fill="#67498f"/>
<circle cx="52" cy="473.42" r="1.25" fill="#67498f"/>
<circle cx="54.76" cy="469.19" r="1.25" fill="#67498f"/>
<circle cx="57.51" cy="476.81" r="1.25" fill="#67498f"/>
<circle cx="60.26" cy="479.27" r="1.25" fill="#67498f"/>
<circle cx="63.01" cy="475.39" r="1.25" fill="#67498f"/>
<circle cx="65.76" cy="461.64" r="1.25" fill="#67498f"/>
<circle cx="68.52" cy="474.55" r="1.25" fill="#67498f"/>
<circle cx="71.27" cy="474.55" r="1.25" fill="#67498f"/>
<circle cx="74.02" cy="470.46" r="1.25" fill="#67498f"/>
<circle cx="76.77" cy="469.61" r="1.25" fill="#67498f"/>
<circle cx="79.52" cy="469.75" r="1.25" fill="#67498f"/>
<circle cx="82.28" cy="466.23" r="1.25" fill="#67498f"/>
<circle cx="85.03" cy="470.32" r="1.25" fill="#67498f"/>
<circle cx="87.78" cy="472.71" r="1.25" fill="#67498f"/>
<circle cx="90.53" cy="472.93" r="1.25" fill="#67498f"/>
<circle cx="93.28" cy="471.52" r="1.25" fill="#67498f"/>
<circle cx="96.04" cy="476.45" r="1.25" fill="#67498f"/>
<circle cx="98.79" cy="471.3" r="1.25" fill="#67498f"/>
<circle cx="101.54" cy="469.61" r="1.25" fill="#67498f"/>
<circle cx="104.29" cy="476.95" r="1.25" fill="#67498f"/>
<circle cx="107.04" cy="469.61" r="1.25" fill="#67498f"/>
<circle cx="109.8" cy="473.63" r="1.25" fill="#67498f"/>
<circle cx="112.55" cy="472.22" r="1.25" fill="#67498f"/>
<circle cx="115.3" cy="471.3" r="1.25" fill="#67498f"/>
<circle cx="118.05" cy="475.25" r="1.25" fill="#67498f"/>
<circle cx="120.8" cy="472.01" r="1.25" fill="#67498f"/>
<circle cx="123.56" cy="467.5" r="1.25" fill="#67498f"/>
<circle cx="126.31" cy="472.22" r="1.25" fill="#67498f"/>
<circle cx="129.06" cy="477.86" r="1.25" fill="#67498f"/>
<circle cx="131.81" cy="472.93" r="1.25" fill="#67498f"/>
<circle cx="134.56" cy="469.05" r="1.25" fill="#67498f"/>
<circle cx="137.32" cy="470.6" r="1.25" fill="#67498f"/>
<circle cx="140.07" cy="477.65" r="1.25" fill="#67498f"/>
<circle cx="142.82" cy="473.28" r="1.25" fill="#67498f"/>
<circle cx="145.57" cy="467.28" r="1.25" fill="#67498f"/>
<circle cx="148.32" cy="474.83" r="1.25" fill="#67498f"/>
<circle cx="151.08" cy="465.66" r="1.25" fill="#67498f"/>
<circle cx="153.83" cy="476.66" r="1.25" fill="#67498f"/>
<circle cx="156.58" cy="474.83" r="1.25" fill="#67498f"/>
<circle cx="159.33" cy="467.78" r="1.25" fill="#67498f"/>
<circle cx="162.08" cy="468.48" r="1.25" fill="#67498f"/>
<circle cx="164.84" cy="468.34" r="1.25" fill="#67498f"/>
<circle cx="167.59" cy="469.89" r="1.25" fill="#67498f"/>
<circle cx="170.34" cy="467.78" r="1.25" fill="#67498f"/>
<circle cx="173.09" cy="478.92" r="1.25" fill="#67498f"/>
<circle cx="175.84" cy="470.46" r="1.25" fill="#67498f"/>
<circle cx="178.6" cy="467.64" r="1.25" fill="#67498f"/>
<circle cx="181.35" cy="465.38" r="1.25" fill="#67498f"/>
<circle cx="184.1" cy="466.79" r="1.25" fill="#67498f"/>
<circle cx="186.85" cy="469.4" r="1.25" fill="#67498f"/>
<circle cx="189.6" cy="472.43" r="1.25" fill="#67498f"/>
<circle cx="192.36" cy="468.34" r="1.25" fill="#67498f"/>
<circle cx="195.11" cy="466.09" r="1.25" fill="#67498f"/>
<circle cx="197.86" cy="466.93" r="1.25" fill="#67498f"/>
<circle cx="200.61" cy="471.73" r="1.25" fill="#67498f"/>
<circle cx="203.36" cy="463.05" r="1.25" fill="#67498f"/>
<circle cx="206.12" cy="471.16" r="1.25" fill="#67498f"/>
<circle cx="208.87" cy="474.55" r="1.25" fill="#67498f"/>
<circle cx="211.62" cy="472.01" r="1.25" fill="#67498f"/>
<circle cx="214.37" cy="469.4" r="1.25" fill="#67498f"/>
<circle cx="217.12" cy="467.99" r="1.25" fill="#67498f"/>
<circle cx="219.88" cy="474.83" r="1.25" fill="#67498f"/>
<circle cx="222.63" cy="462.56" r="1.25" fill="#67498f"/>
<circle cx="225.38" cy="472.93" r="1.25" fill="#67498f"/>
<circle cx="228.13" cy="464.25" r="1.25" fill="#67498f"/>
<circle cx="230.88" cy="463.26" r="1.25" fill="#67498f"/>
<circle cx="233.64" cy="467.5" r="1.25" fill="#67498f"/>
<circle cx="236.39" cy="466.93" r="1.25" fill="#67498f"/>
<circle cx="239.14" cy="470.81" r="1.25" fill="#67498f"/>
<circle cx="241.89" cy="470.81" r="1.25" fill="#67498f"/>
<circle cx="244.64" cy="476.24" r="1.25" fill="#67498f"/>
<circle cx="247.4" cy="472.22" r="1.25" fill="#67498f"/>
<circle cx="250.15" cy="469.19" r="1.25" fill="#67498f"/>
<circle cx="252.9" cy="475.25" r="1.25" fill="#67498f"/>
<circle cx="255.65" cy="476.45" r="1.25" fill="#67498f"/>
<circle cx="258.4" cy="473.63" r="1.25" fill="#67498f"/>
<circle cx="261.16" cy="467.5" r="1.25" fill="#67498f"/>
<circle cx="263.91" cy="464.46" r="1.25" fill="#67498f"/>
<circle cx="266.66" cy="471.02" r="1.25" fill="#67498f"/>
<circle cx="269.41" cy="469.19" r="1.25" fill="#67498f"/>
<circle cx="272.16" cy="467.5" r="1.25" fill="#67498f"/>
<circle cx="274.92" cy="473.14" r="1.25" fill="#67498f"/>
<circle cx="277.67" cy="474.34" r="1.25" fill="#67498f"/>
<circle cx="280.42" cy="473.28" r="1.25" fill="#67498f"/>
<circle cx="283.17" cy="466.23" r="1.25" fill="#67498f"/>
<circle cx="285.92" cy="469.05" r="1.25" fill="#67498f"/>
<circle cx="288.68" cy="474.83" r="1.25" fill="#67498f"/>
<circle cx="291.43" cy="469.19" r="1.25" fill="#67498f"/>
<circle cx="294.18" cy="475.54" r="1.25" fill="#67498f"/>
<circle cx="296.93" cy="467.28" r="1.25" fill="#67498f"/>
<circle cx="299.68" cy="472.71" r="1.25" fill="#67498f"/>
<circle cx="302.44" cy="471.16" r="1.25" fill="#67498f"/>
<circle cx="305.19" cy="470.81" r="1.25" fill="#67498f"/>
<circle cx="307.94" cy="461.43" r="1.25" fill="#67498f"/>
<circle cx="310.69" cy="471.52" r="1.25" fill="#67498f"/>
<circle cx="313.44" cy="471.87" r="1.25" fill="#67498f"/>
<circle cx="316.2" cy="471.87" r="1.25" fill="#67498f"/>
<circle cx="318.95" cy="472.01" r="1.25" fill="#67498f"/>
<circle cx="321.7" cy="469.4" r="1.25" fill="#67498f"/>
<polyline points="49.25,570.77 52,581.51 54.76,575.19 57.51,586.56 60.26,590.25 63.01,584.46 65.76,563.93 68.52,583.19 71.27,583.19 74.02,577.09 76.77,575.83 79.52,576.04 82.28,570.77 85.03,576.88 87.78,580.46 90.53,580.77 93.28,578.67 96.04,586.04 98.79,578.35 101.54,575.83 104.29,586.77 107.04,575.83 109.8,581.83 112.55,579.72 115.3,578.35 118.05,584.25 120.8,579.41 123.56,572.67 126.31,579.72 129.06,588.14 131.81,580.77 134.56,574.98 137.32,577.3 140.07,587.83 142.82,581.3 145.57,572.35 148.32,583.62 151.08,569.93 153.83,586.35 156.58,583.62 159.33,573.09 162.08,574.14 164.84,573.93 167.59,576.25 170.34,573.09 173.09,589.72 175.84,577.09 178.6,572.88 181.35,569.51 184.1,571.62 186.85,575.51 189.6,580.04 192.36,573.93 195.11,570.56 197.86,571.83 200.61,578.98 203.36,566.04 206.12,578.14 208.87,583.19 211.62,579.41 214.37,575.51 217.12,573.41 219.88,583.62 222.63,565.3 225.38,580.77 228.13,567.83 230.88,566.35 233.64,572.67 236.39,571.83 239.14,577.62 241.89,577.62 244.64,585.72 247.4,579.72 250.15,575.19 252.9,584.25 255.65,586.04 258.4,581.83 261.16,572.67 263.91,568.14 266.66,577.93 269.41,575.19 272.16,572.67 274.92,581.09 277.67,582.88 280.42,581.3 283.17,570.77 285.92,574.98 288.68,583.62 291.43,575.19 294.18,584.67 296.93,572.35 299.68,580.46 302.44,578.14 305.19,577.62 307.94,563.62 310.69,578.67 313.44,579.19 316.2,579.19 318.95,579.41 321.7,575.51" fill="none" stroke="#3b76ab" stroke-width="1" stroke-linejoin="round"/>
<circle cx="49.25" cy="570.77" r="1.25" fill="#3b76ab"/>
<circle cx="52" cy="581.51" r="1.25" fill="#3b76ab"/>
<circle cx="54.76" cy="575.19" r="1.25" fill="#3b76ab"/>
<circle cx="57.51" cy="586.56" r="1.25" fill="#3b76ab"/>
<circle cx="60.26" cy="590.25" r="1.25" fill="#3b76ab"/>
<circle cx="63.01" cy="584.46" r="1.25" fill="#3b76ab"/>
<circle cx="65.76" cy="563.93" r="1.25" fill="#3b76ab"/>
<circle cx="68.52" cy="583.19" r="1.25" fill="#3b76ab"/>
<circle cx="71.27" cy="583.19" r="1.25" fill="#3b76ab"/>
<circle cx="74.02" cy="577.09" r="1.25" fill="#3b76ab"/>
<circle cx="76.77" cy="575.83" r="1.25" fill="#3b76ab"/>
<circle cx="79.52" cy="576.04" r="1.25" fill="#3b76ab"/>
<circle cx="82.28" cy="570.77" r="1.25" fill="#3b76ab"/>
<circle cx="85.03" cy="576.88" r="1.25" fill="#3b76ab"/>
<circle cx="87.78" cy="580.46" r="1.25" fill="#3b76ab"/>
<circle cx="90.53" cy="580.77" r="1.25" fill="#3b76ab"/>
<circle cx="93.28" cy="578.67" r="1.25" fill="#3b76ab"/>
<circle cx="96.04" cy="586.04" r="1.25" fill="#3b76ab"/>
<circle cx="98.79" cy="578.35" r="1.25" fill="#3b76ab"/>
<circle cx="101.54" cy="575.83" r="1.25" fill="#3b76ab"/>
<circle cx="104.29" cy="586.77" r="1.25" fill="#3b76ab"/>
<circle cx="107.04" cy="575.83" r="1.25" fill="#3b76ab"/>
<circle cx="109.8" cy="581.83" r="1.25" fill="#3b76ab"/>
<circle cx="112.55" cy="579.72" r="1.25" fill="#3b76ab"/>
<circle cx="115.3" cy="578.35" r="1.25" fill="#3b76ab"/>
<circle cx="118.05" cy="584.25" r="1.25" fill="#3b76ab"/>
<circle cx="120.8" cy="579.41" r="1.25" fill="#3b76ab"/>
<circle cx="123.56" cy="572.67" r="1.25" fill="#3b76ab"/>
<circle cx="126.31" cy="579.72" r="1.25" fill="#3b76ab"/>
<circle cx="129.06" cy="588.14" r="1.25" fill="#3b76ab"/>
<circle cx="131.81" cy="580.77" r="1.25" fill="#3b76ab"/>
<circle cx="134.56" cy="574.98" r="1.25" fill="#3b76ab"/>
<circle cx="137.32" cy="577.3" r="1.25" fill="#3b76ab"/>
<circle cx="140.07" cy="587.83" r="1.25" fill="#3b76ab"/>
<circle cx="142.82" cy="581.3" r="1.25" fill="#3b76ab"/>
<circle cx="145.57" cy="572.35" r="1.25" fill="#3b76ab"/>
<circle cx="148.32" cy="583.62" r="1.25" fill="#3b76ab"/>
<circle cx="151.08" cy="569.93" r="1.25" fill="#3b76ab"/>
<circle cx="153.83" cy="586.35" r="1.25" fill="#3b76ab"/>
<circle cx="156.58" cy="583.62" r="1.25" fill="#3b76ab"/>
<circle cx="159.33" cy="573.09" r="1.25" fill="#3b76ab"/>
<circle cx="162.08" cy="574.14" r="1.25" fill="#3b76ab"/>
<circle cx="164.84" cy="573.93" r="1.25" fill="#3b76ab"/>
<circle cx="167.59" cy="576.25" r="1.25" fill="#3b76ab"/>
<circle cx="170.34" cy="573.09" r="1.25" fill="#3b76ab"/>
<circle cx="173.09" cy="589.72" r="1.25" fill="#3b76ab"/>
<circle cx="175.84" cy="577.09" r="1.25" fill="#3b76ab"/>
<circle cx="178.6" cy="572.88" r="1.25" fill="#3b76ab"/>
<circle cx="181.35" cy="569.51" r="1.25" fill="#3b76ab"/>
<circle cx="184.1" cy="571.62" r="1.25" fill="#3b76ab"/>
<circle cx="186.85" cy="575.51" r="1.25" fill="#3b76ab"/>
<circle cx="189.6" cy="580.04" r="1.25" fill="#3b76ab"/>
<circle cx="192.36" cy="573.93" r="1.25" fill="#3b76ab"/>
<circle cx="195.11" cy="570.56" r="1.25" fill="#3b76ab"/>
<circle cx="197.86" cy="571.83" r="1.25" fill="#3b76ab"/>
<circle cx="200.61" cy="578.98" r="1.25" fill="#3b76ab"/>
<circle cx="203.36" cy="566.04" r="1.25" fill="#3b76ab"/>
<circle cx="206.12" cy="578.14" r="1.25" fill="#3b76ab"/>
<circle cx="208.87" cy="583.19" r="1.25" fill="#3b76ab"/>
<circle cx="211.62" cy="579.41" r="1.25" fill="#3b76ab"/>
<circle cx="214.37" cy="575.51" r="1.25" fill="#3b76ab"/>
<circle cx="217.12" cy="573.41" r="1.25" fill="#3b76ab"/>
<circle cx="219.88" cy="583.62" r="1.25" fill="#3b76ab"/>
<circle cx="222.63" cy="565.3" r="1.25" fill="#3b76ab"/>
<circle cx="225.38" cy="580.77" r="1.25" fill="#3b76ab"/>
<circle cx="228.13" cy="567.83" r="1.25" fill="#3b76ab"/>
<circle cx="230.88" cy="566.35" r="1.25" fill="#3b76ab"/>
<circle cx="233.64" cy="572.67" r="1.25" fill="#3b76ab"/>
<circle cx="236.39" cy="571.83" r="1.25" fill="#3b76ab"/>
<circle cx="239.14" cy="577.62" r="1.25" fill="#3b76ab"/>
<circle cx="241.89" cy="577.62" r="1.25" fill="#3b76ab"/>
<circle cx="244.64" cy="585.72" r="1.25" fill="#3b76ab"/>
<circle cx="247.4" cy="579.72" r="1.25" fill="#3b76ab"/>
<circle cx="250.15" cy="575.19" r="1.25" fill="#3b76ab"/>
<circle cx="252.9" cy="584.25" r="1.25" fill="#3b76ab"/>
<circle cx="255.65" cy="586.04" r="1.25" fill="#3b76ab"/>
<circle cx="258.4" cy="581.83" r="1.25" fill="#3b76ab"/>
<circle cx="261.16" cy="572.67" r="1.25" fill="#3b76ab"/>
<circle cx="263.91" cy="568.14" r="1.25" fill="#3b76ab"/>
<circle cx="266.66" cy="577.93" r="1.25" fill="#3b76ab"/>
<circle cx="269.41" cy="575.19" r="1.25" fill="#3b76ab"/>
<circle cx="272.16" cy="572.67" r="1.25" fill="#3b76ab"/>
<circle cx="274.92" cy="581.09" r="1.25" fill="#3b76ab"/>
<circle cx="277.67" cy="582.88" r="1.25" fill="#3b76ab"/>
<circle cx="280.42" cy="581.3" r="1.25" fill="#3b76ab"/>
<circle cx="283.17" cy="570.77" r="1.25" fill="#3b76ab"/>
<circle cx="285.92" cy="574.98" r="1.25" fill="#3b76ab"/>
<circle cx="288.68" cy="583.62" r="1.25" fill="#3b76ab"/>
<circle cx="291.43" cy="575.19" r="1.25" fill="#3b76ab"/>
<circle cx="294.18" cy="584.67" r="1.25" fill="#3b76ab"/>
<circle cx="296.93" cy="572.35" r="1.25" fill="#3b76ab"/>
<circle cx="299.68" cy="580.46" r="1.25" fill="#3b76ab"/>
<circle cx="302.44" cy="578.14" r="1.25" fill="#3b76ab"/>
<circle cx="305.19" cy="577.62" r="1.25" fill="#3b76ab"/>
<circle cx="307.94" cy="563.62" r="1.25" fill="#3b76ab"/>
<circle cx="310.69" cy="578.67" r="1.25" fill="#3b76ab"/>
<circle cx="313.44" cy="579.19" r="1.25" fill="#3b76ab"/>
<circle cx="316.2" cy="579.19" r="1.25" fill="#3b76ab"/>
<circle cx="318.95" cy="579.41" r="1.25" fill="#3b76ab"/>
<circle cx="321.7" cy="575.51" r="1.25" fill="#3b76ab"/>
<rect x="35.5" y="316.2" width="298.9" height="286" fill="none" stroke="#8a8a8a" stroke-width="1"/>
<line x1="33.0" y1="540.98" x2="35.5" y2="540.98" stroke="#333" stroke-width="0.7"/>
<text x="32.5" y="544.38" text-anchor="end" font-size="8.4" fill="#333">0.980</text>
<line x1="33.0" y1="464.74" x2="35.5" y2="464.74" stroke="#333" stroke-width="0.7"/>
<text x="32.5" y="468.14" text-anchor="end" font-size="8.4" fill="#333">0.984</text>
<line x1="33.0" y1="388.5" x2="35.5" y2="388.5" stroke="#333" stroke-width="0.7"/>
<text x="32.5" y="391.9" text-anchor="end" font-size="8.4" fill="#333">0.988</text>
<line x1="46.5" y1="602.2" x2="46.5" y2="604.7" stroke="#333" stroke-width="0.7"/>
<text x="46.5" y="610.6" text-anchor="middle" font-size="8.4" fill="#333">0</text>
<line x1="115.3" y1="602.2" x2="115.3" y2="604.7" stroke="#333" stroke-width="0.7"/>
<text x="115.3" y="610.6" text-anchor="middle" font-size="8.4" fill="#333">25</text>
<line x1="184.1" y1="602.2" x2="184.1" y2="604.7" stroke="#333" stroke-width="0.7"/>
<text x="184.1" y="610.6" text-anchor="middle" font-size="8.4" fill="#333">50</text>
<line x1="252.9" y1="602.2" x2="252.9" y2="604.7" stroke="#333" stroke-width="0.7"/>
<text x="252.9" y="610.6" text-anchor="middle" font-size="8.4" fill="#333">75</text>
<line x1="321.7" y1="602.2" x2="321.7" y2="604.7" stroke="#333" stroke-width="0.7"/>
<text x="321.7" y="610.6" text-anchor="middle" font-size="8.4" fill="#333">100</text>
<text x="184" y="631.3" text-anchor="middle" font-size="10.8" fill="#000">random times</text>
<text transform="translate(9.9,449) rotate(-90)" text-anchor="middle" font-size="10.8" fill="#000">value</text>
<line x1="344.9" y1="437.7" x2="352.1" y2="437.7" stroke="#d0303a" stroke-width="0.9"/>
<circle cx="348.5" cy="437.7" r="1.1" fill="#d0303a"/>
<text x="356.2" y="440.7" font-size="8.4" fill="#000">Sensitivity</text>
<line x1="344.9" y1="446.85" x2="352.1" y2="446.85" stroke="#3b76ab" stroke-width="0.9"/>
<circle cx="348.5" cy="446.85" r="1.1" fill="#3b76ab"/>
<text x="356.2" y="449.85" font-size="8.4" fill="#000">Specificity</text>
<line x1="344.9" y1="456" x2="352.1" y2="456" stroke="#4aa84a" stroke-width="0.9"/>
<circle cx="348.5" cy="456" r="1.1" fill="#4aa84a"/>
<text x="356.2" y="459" font-size="8.4" fill="#000">NPV</text>
<line x1="344.9" y1="465.15" x2="352.1" y2="465.15" stroke="#67498f" stroke-width="0.9"/>
<circle cx="348.5" cy="465.15" r="1.1" fill="#67498f"/>
<text x="356.2" y="468.15" font-size="8.4" fill="#000">Precision</text>
<line x1="344.9" y1="474.3" x2="352.1" y2="474.3" stroke="#e88a40" stroke-width="0.9"/>
<circle cx="348.5" cy="474.3" r="1.1" fill="#e88a40"/>
<text x="356.2" y="477.3" font-size="8.4" fill="#000">F1.score</text>
<line x1="344.9" y1="483.45" x2="352.1" y2="483.45" stroke="#e08cb8" stroke-width="0.9"/>
<circle cx="348.5" cy="483.45" r="1.1" fill="#e08cb8"/>
<text x="356.2" y="486.45" font-size="8.4" fill="#000">Accuracy</text>
</g>
<g id="D">
<line x1="444.8" y1="601.4" x2="730.0" y2="316.5" stroke="#a0a0a0" stroke-width="1.1"/>
<rect x="455.4" y="327.1" width="263.8" height="264.1" fill="#afdff0"/>
<line x1="455.4" y1="591.2" x2="719.2" y2="327.1" stroke="#8fc0d3" stroke-width="1.2"/>
<path d="M455.4,327.1 V591.2 H719.2 V327.1" fill="none" stroke="#3f4f5a" stroke-width="0.9"/>
<line x1="455.4" y1="327.1" x2="719.2" y2="327.1" stroke="#7d95a5" stroke-width="1"/>
<path d="M455.4,333.7 Q455.9,328.1 460.68,327.1" fill="none" stroke="#3f4f5a" stroke-width="0.8"/>
<rect x="444.8" y="316.5" width="285.2" height="284.9" fill="none" stroke="#666" stroke-width="0.9"/>
<line x1="441.2" y1="591.2" x2="444.8" y2="591.2" stroke="#444" stroke-width="0.8"/>
<text transform="translate(437.4,591.2) rotate(-90)" text-anchor="middle" font-size="8.8" fill="#222">0.0</text>
<line x1="455.4" y1="601.4" x2="455.4" y2="604.8" stroke="#444" stroke-width="0.8"/>
<text x="455.4" y="616.3" text-anchor="middle" font-size="8.8" fill="#222">0.0</text>
<line x1="441.2" y1="538.38" x2="444.8" y2="538.38" stroke="#444" stroke-width="0.8"/>
<text transform="translate(437.4,538.38) rotate(-90)" text-anchor="middle" font-size="8.8" fill="#222">0.2</text>
<line x1="508.16" y1="601.4" x2="508.16" y2="604.8" stroke="#444" stroke-width="0.8"/>
<text x="508.16" y="616.3" text-anchor="middle" font-size="8.8" fill="#222">0.2</text>
<line x1="441.2" y1="485.56" x2="444.8" y2="485.56" stroke="#444" stroke-width="0.8"/>
<text transform="translate(437.4,485.56) rotate(-90)" text-anchor="middle" font-size="8.8" fill="#222">0.4</text>
<line x1="560.92" y1="601.4" x2="560.92" y2="604.8" stroke="#444" stroke-width="0.8"/>
<text x="560.92" y="616.3" text-anchor="middle" font-size="8.8" fill="#222">0.4</text>
<line x1="441.2" y1="432.74" x2="444.8" y2="432.74" stroke="#444" stroke-width="0.8"/>
<text transform="translate(437.4,432.74) rotate(-90)" text-anchor="middle" font-size="8.8" fill="#222">0.6</text>
<line x1="613.68" y1="601.4" x2="613.68" y2="604.8" stroke="#444" stroke-width="0.8"/>
<text x="613.68" y="616.3" text-anchor="middle" font-size="8.8" fill="#222">0.6</text>
<line x1="441.2" y1="379.92" x2="444.8" y2="379.92" stroke="#444" stroke-width="0.8"/>
<text transform="translate(437.4,379.92) rotate(-90)" text-anchor="middle" font-size="8.8" fill="#222">0.8</text>
<line x1="666.44" y1="601.4" x2="666.44" y2="604.8" stroke="#444" stroke-width="0.8"/>
<text x="666.44" y="616.3" text-anchor="middle" font-size="8.8" fill="#222">0.8</text>
<line x1="441.2" y1="327.1" x2="444.8" y2="327.1" stroke="#444" stroke-width="0.8"/>
<text transform="translate(437.4,327.1) rotate(-90)" text-anchor="middle" font-size="8.8" fill="#222">1.0</text>
<line x1="719.2" y1="601.4" x2="719.2" y2="604.8" stroke="#444" stroke-width="0.8"/>
<text x="719.2" y="616.3" text-anchor="middle" font-size="8.8" fill="#222">1.0</text>
<text transform="translate(420.5,453) rotate(-90)" text-anchor="middle" font-size="10.8" fill="#111">Sensitivity</text>
<text x="588.6" y="631" text-anchor="middle" font-size="10.8" fill="#111">1 − Specificity</text>
<circle cx="458.7" cy="331.5" r="1.5" fill="#000"/>
<text x="463" y="339" font-size="8.3" fill="#1a1a1a">0.375 (0.988, 0.982)</text>
<text x="661.4" y="571" text-anchor="middle" font-size="8.3" fill="#222">AUC: 0.996</text>
</g>
<text x="1.0" y="11.1" font-size="14" fill="#000">A</text>
<text x="410.8" y="11.1" font-size="14" fill="#000">B</text>
<text x="1.0" y="325.6" font-size="14" fill="#000">C</text>
<text x="411.5" y="325.6" font-size="14" fill="#000">D</text>
</svg>
</body></html>
